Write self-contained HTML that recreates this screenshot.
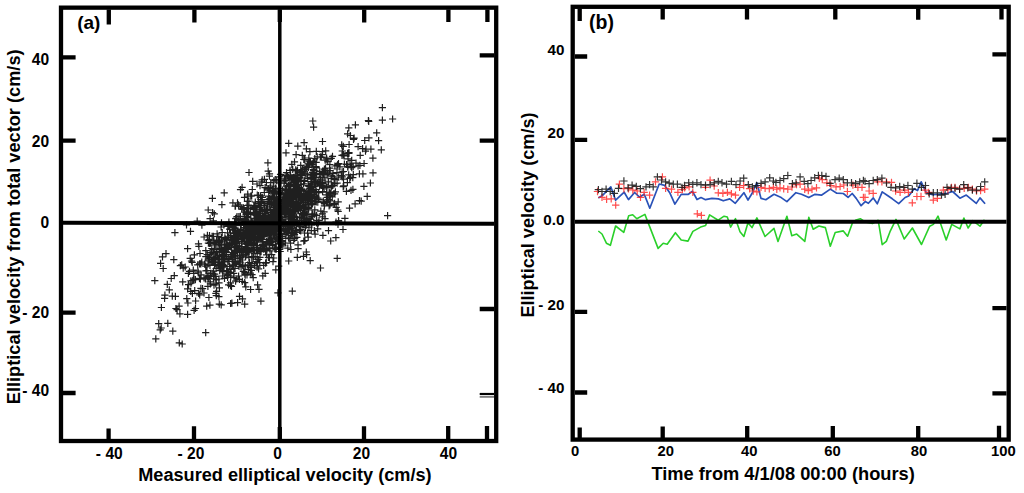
<!DOCTYPE html>
<html><head><meta charset="utf-8"><title>Elliptical velocity comparison</title>
<style>html,body{margin:0;padding:0;background:#fff;width:1024px;height:493px;overflow:hidden}svg{display:block}</style>
</head><body>
<svg width="1024" height="493" viewBox="0 0 1024 493">
<rect width="1024" height="493" fill="#fff"/>
<path d="M294.5 248.7h7.2M298.1 245.1v7.2M319.2 180.2h7.2M322.8 176.6v7.2M302.2 169.3h7.2M305.8 165.7v7.2M254.3 239.7h7.2M257.9 236.1v7.2M275.1 249.5h7.2M278.7 245.9v7.2M246.8 231.7h7.2M250.4 228.1v7.2M288.6 201.4h7.2M292.2 197.8v7.2M257.1 209.2h7.2M260.7 205.6v7.2M287.2 186.5h7.2M290.8 182.9v7.2M203.6 277h7.2M207.2 273.4v7.2M322 168.2h7.2M325.6 164.6v7.2M282 243h7.2M285.6 239.4v7.2M282.9 186.1h7.2M286.5 182.5v7.2M261.8 221.1h7.2M265.4 217.5v7.2M244.5 217.8h7.2M248.1 214.2v7.2M275.4 193.1h7.2M279 189.5v7.2M301.4 198.2h7.2M305 194.6v7.2M262.6 226.9h7.2M266.2 223.3v7.2M271.2 233.9h7.2M274.8 230.3v7.2M313.1 223h7.2M316.7 219.4v7.2M238 246.5h7.2M241.6 242.9v7.2M211.8 262.2h7.2M215.4 258.6v7.2M293.2 220.2h7.2M296.8 216.6v7.2M237.3 230.7h7.2M240.9 227.1v7.2M197.5 274.9h7.2M201.1 271.3v7.2M234.5 238h7.2M238.1 234.4v7.2M258.7 242h7.2M262.3 238.4v7.2M241.6 275.1h7.2M245.2 271.5v7.2M206.7 254.3h7.2M210.3 250.7v7.2M264.1 211h7.2M267.7 207.4v7.2M302.4 193.9h7.2M306 190.3v7.2M264 231h7.2M267.6 227.4v7.2M244 244.4h7.2M247.6 240.8v7.2M283.9 209.4h7.2M287.5 205.8v7.2M299.6 203.9h7.2M303.2 200.3v7.2M276.6 251.5h7.2M280.2 247.9v7.2M281.1 193.9h7.2M284.7 190.3v7.2M320.8 205.8h7.2M324.4 202.2v7.2M264.1 229.2h7.2M267.7 225.6v7.2M241.7 246.8h7.2M245.3 243.2v7.2M278.8 205.9h7.2M282.4 202.3v7.2M292.8 230.7h7.2M296.4 227.1v7.2M297.3 172.6h7.2M300.9 169v7.2M215.4 249.5h7.2M219 245.9v7.2M237.1 229.8h7.2M240.7 226.2v7.2M226 229.2h7.2M229.6 225.6v7.2M212.7 279.8h7.2M216.3 276.2v7.2M302.7 252h7.2M306.3 248.4v7.2M284.7 199.7h7.2M288.3 196.1v7.2M229.1 225.7h7.2M232.7 222.1v7.2M308.1 164.6h7.2M311.7 161v7.2M303.6 201h7.2M307.2 197.4v7.2M292.3 201.6h7.2M295.9 198v7.2M280.5 203.9h7.2M284.1 200.3v7.2M320.4 211.9h7.2M324 208.3v7.2M226.1 266.3h7.2M229.7 262.7v7.2M296.9 208.3h7.2M300.5 204.7v7.2M275.5 182.8h7.2M279.1 179.2v7.2M210 278.9h7.2M213.6 275.3v7.2M266.3 190.5h7.2M269.9 186.9v7.2M259.2 226.3h7.2M262.8 222.7v7.2M312.8 215.5h7.2M316.4 211.9v7.2M231.5 206.2h7.2M235.1 202.6v7.2M276.9 230.9h7.2M280.5 227.3v7.2M275.1 201.7h7.2M278.7 198.1v7.2M220.3 225h7.2M223.9 221.4v7.2M295.3 207.5h7.2M298.9 203.9v7.2M276.2 236.4h7.2M279.8 232.8v7.2M276.6 192.3h7.2M280.2 188.7v7.2M248.7 233.7h7.2M252.3 230.1v7.2M319.7 201.2h7.2M323.3 197.6v7.2M300.7 213.7h7.2M304.3 210.1v7.2M265.6 228.8h7.2M269.2 225.2v7.2M282.4 189.1h7.2M286 185.5v7.2M317.1 185.1h7.2M320.7 181.5v7.2M327.6 158.4h7.2M331.2 154.8v7.2M195.3 246.3h7.2M198.9 242.7v7.2M288.7 178.1h7.2M292.3 174.5v7.2M271.8 188.5h7.2M275.4 184.9v7.2M253.3 207.4h7.2M256.9 203.8v7.2M246.8 267.5h7.2M250.4 263.9v7.2M302.8 167.6h7.2M306.4 164v7.2M219.2 252.5h7.2M222.8 248.9v7.2M290.3 203.7h7.2M293.9 200.1v7.2M326.2 193.1h7.2M329.8 189.5v7.2M225 284.8h7.2M228.6 281.2v7.2M267.8 240.9h7.2M271.4 237.3v7.2M220.8 258h7.2M224.4 254.4v7.2M288.4 225.5h7.2M292 221.9v7.2M331.4 183.7h7.2M335 180.1v7.2M348.1 166.3h7.2M351.7 162.7v7.2M197.2 263.8h7.2M200.8 260.2v7.2M250.2 239.4h7.2M253.8 235.8v7.2M295.5 199.9h7.2M299.1 196.3v7.2M313.6 156.8h7.2M317.2 153.2v7.2M286.8 210.3h7.2M290.4 206.7v7.2M235.5 234.1h7.2M239.1 230.5v7.2M289.2 222.5h7.2M292.8 218.9v7.2M264.7 215.7h7.2M268.3 212.1v7.2M259.8 223.6h7.2M263.4 220v7.2M239.9 238.7h7.2M243.5 235.1v7.2M286.9 213h7.2M290.5 209.4v7.2M289.4 221.9h7.2M293 218.3v7.2M267.8 225.2h7.2M271.4 221.6v7.2M264.7 231h7.2M268.3 227.4v7.2M211.7 245h7.2M215.3 241.4v7.2M242.1 222.8h7.2M245.7 219.2v7.2M323.8 197.3h7.2M327.4 193.7v7.2M255.5 217.3h7.2M259.1 213.7v7.2M220.3 267.2h7.2M223.9 263.6v7.2M312.8 174.2h7.2M316.4 170.6v7.2M292.3 208.9h7.2M295.9 205.3v7.2M359.3 173.8h7.2M362.9 170.2v7.2M261.1 205.3h7.2M264.7 201.7v7.2M247.3 227.4h7.2M250.9 223.8v7.2M227.1 276.1h7.2M230.7 272.5v7.2M334.6 201.9h7.2M338.2 198.3v7.2M367.3 149.2h7.2M370.9 145.6v7.2M249.6 257.1h7.2M253.2 253.5v7.2M248.2 242.4h7.2M251.8 238.8v7.2M284.3 194.1h7.2M287.9 190.5v7.2M224.2 226.4h7.2M227.8 222.8v7.2M261.9 231.2h7.2M265.5 227.6v7.2M242.6 213.3h7.2M246.2 209.7v7.2M264.4 199.7h7.2M268 196.1v7.2M312.5 191.7h7.2M316.1 188.1v7.2M284.9 237.8h7.2M288.5 234.2v7.2M293.9 181.9h7.2M297.5 178.3v7.2M247.3 224.3h7.2M250.9 220.7v7.2M258.1 181.9h7.2M261.7 178.3v7.2M176.8 265.6h7.2M180.4 262v7.2M208 252.7h7.2M211.6 249.1v7.2M281.5 175.7h7.2M285.1 172.1v7.2M256.7 248.6h7.2M260.3 245v7.2M287.7 199.6h7.2M291.3 196v7.2M290.8 206.1h7.2M294.4 202.5v7.2M300.2 159.5h7.2M303.8 155.9v7.2M292.7 188.3h7.2M296.3 184.7v7.2M334.4 224.5h7.2M338 220.9v7.2M251.3 206.3h7.2M254.9 202.7v7.2M251.4 250.1h7.2M255 246.5v7.2M234.3 231.5h7.2M237.9 227.9v7.2M255 238.9h7.2M258.6 235.3v7.2M224.7 249.5h7.2M228.3 245.9v7.2M242.3 227.7h7.2M245.9 224.1v7.2M263.1 219.3h7.2M266.7 215.7v7.2M286.5 222.5h7.2M290.1 218.9v7.2M242.7 212.6h7.2M246.3 209v7.2M194.3 271.1h7.2M197.9 267.5v7.2M265.8 221.2h7.2M269.4 217.6v7.2M269.8 203.9h7.2M273.4 200.3v7.2M312.9 193h7.2M316.5 189.4v7.2M271.6 179.7h7.2M275.2 176.1v7.2M242.6 235.2h7.2M246.2 231.6v7.2M238.4 236h7.2M242 232.4v7.2M338.4 155.3h7.2M342 151.7v7.2M304.5 207.1h7.2M308.1 203.5v7.2M346.2 178.3h7.2M349.8 174.7v7.2M344 153.3h7.2M347.6 149.7v7.2M235 238.9h7.2M238.6 235.3v7.2M269.6 191.7h7.2M273.2 188.1v7.2M280.7 200h7.2M284.3 196.4v7.2M298.9 214.9h7.2M302.5 211.3v7.2M283 196.6h7.2M286.6 193v7.2M267.8 203.2h7.2M271.4 199.6v7.2M265.1 201.9h7.2M268.7 198.3v7.2M210.2 259.3h7.2M213.8 255.7v7.2M273.7 237.9h7.2M277.3 234.3v7.2M229.9 227.3h7.2M233.5 223.7v7.2M279.7 223.6h7.2M283.3 220v7.2M245.7 225.9h7.2M249.3 222.3v7.2M305.7 218.8h7.2M309.3 215.2v7.2M290.9 185.6h7.2M294.5 182v7.2M286.9 218.8h7.2M290.5 215.2v7.2M269.5 196.8h7.2M273.1 193.2v7.2M255 195.5h7.2M258.6 191.9v7.2M240.8 218.4h7.2M244.4 214.8v7.2M273.2 237.3h7.2M276.8 233.7v7.2M259 244.5h7.2M262.6 240.9v7.2M290.6 217.5h7.2M294.2 213.9v7.2M262.5 210.7h7.2M266.1 207.1v7.2M286.2 197.6h7.2M289.8 194v7.2M218.2 256.2h7.2M221.8 252.6v7.2M297.7 188.9h7.2M301.3 185.3v7.2M234.9 234.6h7.2M238.5 231v7.2M235.3 232.9h7.2M238.9 229.3v7.2M245.1 205h7.2M248.7 201.4v7.2M248.2 236.1h7.2M251.8 232.5v7.2M277 207.8h7.2M280.6 204.2v7.2M264.8 257.4h7.2M268.4 253.8v7.2M241.7 265.9h7.2M245.3 262.3v7.2M243.9 251.9h7.2M247.5 248.3v7.2M327.4 193.9h7.2M331 190.3v7.2M267.8 215h7.2M271.4 211.4v7.2M215.8 241.3h7.2M219.4 237.7v7.2M272.7 223.7h7.2M276.3 220.1v7.2M216.1 270.6h7.2M219.7 267v7.2M338.5 171.9h7.2M342.1 168.3v7.2M211.4 262.5h7.2M215 258.9v7.2M291 211.1h7.2M294.6 207.5v7.2M284.2 197.9h7.2M287.8 194.3v7.2M212.5 258.3h7.2M216.1 254.7v7.2M276.1 206h7.2M279.7 202.4v7.2M297.6 180.5h7.2M301.2 176.9v7.2M285.1 204.7h7.2M288.7 201.1v7.2M276.5 209.6h7.2M280.1 206v7.2M286.4 170.4h7.2M290 166.8v7.2M274.7 214.7h7.2M278.3 211.1v7.2M273.1 199.7h7.2M276.7 196.1v7.2M263.2 222.1h7.2M266.8 218.5v7.2M295.8 205.6h7.2M299.4 202v7.2M238.3 252.2h7.2M241.9 248.6v7.2M305.1 205.1h7.2M308.7 201.5v7.2M249.8 233.8h7.2M253.4 230.2v7.2M234.3 258.3h7.2M237.9 254.7v7.2M285.7 213.1h7.2M289.3 209.5v7.2M318.7 154.7h7.2M322.3 151.1v7.2M304.8 192.1h7.2M308.4 188.5v7.2M238.8 221h7.2M242.4 217.4v7.2M291.4 195.3h7.2M295 191.7v7.2M243.7 222.4h7.2M247.3 218.8v7.2M269.7 229.8h7.2M273.3 226.2v7.2M270.3 214.7h7.2M273.9 211.1v7.2M158.9 256.8h7.2M162.5 253.2v7.2M267.6 203.7h7.2M271.2 200.1v7.2M221.3 237.8h7.2M224.9 234.2v7.2M240.8 236.9h7.2M244.4 233.3v7.2M206.5 252.7h7.2M210.1 249.1v7.2M224 277.5h7.2M227.6 273.9v7.2M242 256.9h7.2M245.6 253.3v7.2M294.6 189.6h7.2M298.2 186v7.2M321.6 160.2h7.2M325.2 156.6v7.2M271.4 224.6h7.2M275 221v7.2M310.1 189h7.2M313.7 185.4v7.2M262.2 231.1h7.2M265.8 227.5v7.2M200.4 277.8h7.2M204 274.2v7.2M285.3 228.7h7.2M288.9 225.1v7.2M298.3 222.6h7.2M301.9 219v7.2M253.6 232.7h7.2M257.2 229.1v7.2M295.9 230.4h7.2M299.5 226.8v7.2M298.7 213.6h7.2M302.3 210v7.2M243.2 252.4h7.2M246.8 248.8v7.2M224.5 275.1h7.2M228.1 271.5v7.2M258.2 222.9h7.2M261.8 219.3v7.2M265 230.6h7.2M268.6 227v7.2M256.4 230.6h7.2M260 227v7.2M314.2 201.8h7.2M317.8 198.2v7.2M338.6 176.8h7.2M342.2 173.2v7.2M248.5 225.6h7.2M252.1 222v7.2M290.7 194.3h7.2M294.3 190.7v7.2M307.4 196.8h7.2M311 193.2v7.2M291.2 193.9h7.2M294.8 190.3v7.2M305.1 186.1h7.2M308.7 182.5v7.2M252.9 228.9h7.2M256.5 225.3v7.2M280.6 178.8h7.2M284.2 175.2v7.2M346.4 164.1h7.2M350 160.5v7.2M294.1 190.7h7.2M297.7 187.1v7.2M242 232.7h7.2M245.6 229.1v7.2M293.1 204.1h7.2M296.7 200.5v7.2M325.8 195.6h7.2M329.4 192v7.2M275.6 200.4h7.2M279.2 196.8v7.2M245.6 233h7.2M249.2 229.4v7.2M324.6 173.2h7.2M328.2 169.6v7.2M222.8 256.1h7.2M226.4 252.5v7.2M286.9 204.3h7.2M290.5 200.7v7.2M276.6 230.3h7.2M280.2 226.7v7.2M222.4 251.3h7.2M226 247.7v7.2M330.3 204.4h7.2M333.9 200.8v7.2M281.7 209.5h7.2M285.3 205.9v7.2M240.3 271.4h7.2M243.9 267.8v7.2M294.1 205.8h7.2M297.7 202.2v7.2M246.3 223.9h7.2M249.9 220.3v7.2M201.8 278.8h7.2M205.4 275.2v7.2M248.2 245.5h7.2M251.8 241.9v7.2M273.6 205.8h7.2M277.2 202.2v7.2M294.6 203.9h7.2M298.2 200.3v7.2M278.8 219.4h7.2M282.4 215.8v7.2M274.2 222.8h7.2M277.8 219.2v7.2M271.8 188.1h7.2M275.4 184.5v7.2M254.9 218.1h7.2M258.5 214.5v7.2M307.3 179.2h7.2M310.9 175.6v7.2M285.6 229.1h7.2M289.2 225.5v7.2M273.8 203.7h7.2M277.4 200.1v7.2M300.9 218.7h7.2M304.5 215.1v7.2M225.8 245.3h7.2M229.4 241.7v7.2M253.6 253.6h7.2M257.2 250v7.2M306.3 151.7h7.2M309.9 148.1v7.2M297.1 229.4h7.2M300.7 225.8v7.2M247.1 213.8h7.2M250.7 210.2v7.2M273.9 200.2h7.2M277.5 196.6v7.2M268.1 254.6h7.2M271.7 251v7.2M281.4 214.3h7.2M285 210.7v7.2M231 222.6h7.2M234.6 219v7.2M268.3 198.3h7.2M271.9 194.7v7.2M227 285.7h7.2M230.6 282.1v7.2M322.5 186.4h7.2M326.1 182.8v7.2M261.3 248.6h7.2M264.9 245v7.2M220.9 278.4h7.2M224.5 274.8v7.2M266.9 233.8h7.2M270.5 230.2v7.2M238.1 209.2h7.2M241.7 205.6v7.2M273.3 213.7h7.2M276.9 210.1v7.2M229.3 256.2h7.2M232.9 252.6v7.2M286.7 211.9h7.2M290.3 208.3v7.2M215.8 249.5h7.2M219.4 245.9v7.2M290 220.5h7.2M293.6 216.9v7.2M243.8 211.8h7.2M247.4 208.2v7.2M286.3 226.7h7.2M289.9 223.1v7.2M205.4 276.6h7.2M209 273v7.2M222.7 248.5h7.2M226.3 244.9v7.2M269.7 186.2h7.2M273.3 182.6v7.2M270.9 224.9h7.2M274.5 221.3v7.2M326 168.1h7.2M329.6 164.5v7.2M231 225.4h7.2M234.6 221.8v7.2M269.5 207.3h7.2M273.1 203.7v7.2M364.8 120.5h7.2M368.4 116.9v7.2M231.3 230.3h7.2M234.9 226.7v7.2M233.5 243.5h7.2M237.1 239.9v7.2M261.8 213.4h7.2M265.4 209.8v7.2M258.7 210.4h7.2M262.3 206.8v7.2M300.1 195.1h7.2M303.7 191.5v7.2M258.7 197.3h7.2M262.3 193.7v7.2M260.1 265.3h7.2M263.7 261.7v7.2M285.4 224.2h7.2M289 220.6v7.2M351.8 124.9h7.2M355.4 121.3v7.2M311.4 177.2h7.2M315 173.6v7.2M173.5 309.6h7.2M177.1 306v7.2M260.3 219.5h7.2M263.9 215.9v7.2M226.8 233h7.2M230.4 229.4v7.2M297 207.9h7.2M300.6 204.3v7.2M255.4 215.9h7.2M259 212.3v7.2M340.8 164h7.2M344.4 160.4v7.2M304.1 193.5h7.2M307.7 189.9v7.2M302.2 194.2h7.2M305.8 190.6v7.2M265.3 201.3h7.2M268.9 197.7v7.2M278.1 234h7.2M281.7 230.4v7.2M284.9 214h7.2M288.5 210.4v7.2M310.1 173.7h7.2M313.7 170.1v7.2M300 218.1h7.2M303.6 214.5v7.2M271.1 248.6h7.2M274.7 245v7.2M310.2 175.4h7.2M313.8 171.8v7.2M276 214h7.2M279.6 210.4v7.2M267.6 223.8h7.2M271.2 220.2v7.2M238.7 241.5h7.2M242.3 237.9v7.2M257.5 247.8h7.2M261.1 244.2v7.2M218.3 204.6h7.2M221.9 201v7.2M176.3 313.8h7.2M179.9 310.2v7.2M310.2 194.7h7.2M313.8 191.1v7.2M303.1 219.6h7.2M306.7 216v7.2M265.1 230.9h7.2M268.7 227.3v7.2M292.8 171h7.2M296.4 167.4v7.2M284.8 206.6h7.2M288.4 203v7.2M277 201.8h7.2M280.6 198.2v7.2M183.2 298.6h7.2M186.8 295v7.2M243.4 205.5h7.2M247 201.9v7.2M286.9 202.1h7.2M290.5 198.5v7.2M339.6 186.7h7.2M343.2 183.1v7.2M328.9 156.3h7.2M332.5 152.7v7.2M324.6 181.9h7.2M328.2 178.3v7.2M220.8 247h7.2M224.4 243.4v7.2M187.4 283.1h7.2M191 279.5v7.2M287.3 199.8h7.2M290.9 196.2v7.2M268.7 217.3h7.2M272.3 213.7v7.2M312.7 201.8h7.2M316.3 198.2v7.2M278.6 241h7.2M282.2 237.4v7.2M267.8 201.9h7.2M271.4 198.3v7.2M215.5 265.7h7.2M219.1 262.1v7.2M282.7 203.2h7.2M286.3 199.6v7.2M257.1 238.3h7.2M260.7 234.7v7.2M300.9 233h7.2M304.5 229.4v7.2M297.8 221h7.2M301.4 217.4v7.2M251.6 206.9h7.2M255.2 203.3v7.2M288 219.5h7.2M291.6 215.9v7.2M272.1 224.6h7.2M275.7 221v7.2M310.6 214.4h7.2M314.2 210.8v7.2M292.3 211.1h7.2M295.9 207.5v7.2M252.5 240.3h7.2M256.1 236.7v7.2M249.6 239.7h7.2M253.2 236.1v7.2M333.4 169h7.2M337 165.4v7.2M271.3 230.1h7.2M274.9 226.5v7.2M310.7 197.1h7.2M314.3 193.5v7.2M283.5 208.3h7.2M287.1 204.7v7.2M245.4 232.7h7.2M249 229.1v7.2M243 243.6h7.2M246.6 240v7.2M257 195.9h7.2M260.6 192.3v7.2M276.5 209.8h7.2M280.1 206.2v7.2M290 199.7h7.2M293.6 196.1v7.2M229 264.9h7.2M232.6 261.3v7.2M237.6 225.4h7.2M241.2 221.8v7.2M275.2 234.5h7.2M278.8 230.9v7.2M342.8 191.3h7.2M346.4 187.7v7.2M192 301h7.2M195.6 297.4v7.2M279.2 199.6h7.2M282.8 196v7.2M260.1 249.1h7.2M263.7 245.5v7.2M272.6 192h7.2M276.2 188.4v7.2M251.3 234.6h7.2M254.9 231v7.2M296.7 226.7h7.2M300.3 223.1v7.2M328.4 176.2h7.2M332 172.6v7.2M265.2 188.6h7.2M268.8 185v7.2M293 217h7.2M296.6 213.4v7.2M295.1 224.1h7.2M298.7 220.5v7.2M236.8 236h7.2M240.4 232.4v7.2M276.6 188.5h7.2M280.2 184.9v7.2M251.9 214.1h7.2M255.5 210.5v7.2M242.5 247.7h7.2M246.1 244.1v7.2M265.9 218.8h7.2M269.5 215.2v7.2M257.7 222.8h7.2M261.3 219.2v7.2M285.5 183.9h7.2M289.1 180.3v7.2M247.2 196.1h7.2M250.8 192.5v7.2M250.8 236.8h7.2M254.4 233.2v7.2M310 161.6h7.2M313.6 158v7.2M308.4 194.6h7.2M312 191v7.2M309.9 175.4h7.2M313.5 171.8v7.2M300.1 212.7h7.2M303.7 209.1v7.2M272.3 232h7.2M275.9 228.4v7.2M249.8 227.4h7.2M253.4 223.8v7.2M267.3 238.6h7.2M270.9 235v7.2M295.3 181.5h7.2M298.9 177.9v7.2M278.4 222.9h7.2M282 219.3v7.2M214.2 262.8h7.2M217.8 259.2v7.2M268.4 222h7.2M272 218.4v7.2M220.5 265.6h7.2M224.1 262v7.2M273.9 213.4h7.2M277.5 209.8v7.2M214.9 242.9h7.2M218.5 239.3v7.2M193.6 221h7.2M197.2 217.4v7.2M284.6 230.2h7.2M288.2 226.6v7.2M263.4 218.6h7.2M267 215v7.2M210 271h7.2M213.6 267.4v7.2M305 208.3h7.2M308.6 204.7v7.2M345.4 152.5h7.2M349 148.9v7.2M223.3 273.9h7.2M226.9 270.3v7.2M336.3 166.9h7.2M339.9 163.3v7.2M232.3 225.7h7.2M235.9 222.1v7.2M270.1 258h7.2M273.7 254.4v7.2M260.2 222.2h7.2M263.8 218.6v7.2M212.1 257.4h7.2M215.7 253.8v7.2M325.6 192.6h7.2M329.2 189v7.2M282.1 199.2h7.2M285.7 195.6v7.2M238.3 238h7.2M241.9 234.4v7.2M262.2 232.1h7.2M265.8 228.5v7.2M202.2 250.6h7.2M205.8 247v7.2M268.7 245.4h7.2M272.3 241.8v7.2M297.2 184.6h7.2M300.8 181v7.2M208.6 273.3h7.2M212.2 269.7v7.2M263.1 245.1h7.2M266.7 241.5v7.2M276.1 217.6h7.2M279.7 214v7.2M310.7 192.9h7.2M314.3 189.3v7.2M310.6 170.4h7.2M314.2 166.8v7.2M266.5 250.8h7.2M270.1 247.2v7.2M243.9 244h7.2M247.5 240.4v7.2M289.8 211.8h7.2M293.4 208.2v7.2M241 212.2h7.2M244.6 208.6v7.2M268.3 242h7.2M271.9 238.4v7.2M298.5 175.6h7.2M302.1 172v7.2M347.4 190.3h7.2M351 186.7v7.2M275.6 208h7.2M279.2 204.4v7.2M263.4 227.1h7.2M267 223.5v7.2M286.4 198.6h7.2M290 195v7.2M206.8 283.9h7.2M210.4 280.3v7.2M286.9 243.2h7.2M290.5 239.6v7.2M245 269.3h7.2M248.6 265.7v7.2M344 133.9h7.2M347.6 130.3v7.2M293.4 196.1h7.2M297 192.5v7.2M282.5 225.8h7.2M286.1 222.2v7.2M253.6 215.2h7.2M257.2 211.6v7.2M184.3 303h7.2M187.9 299.4v7.2M302.2 207.5h7.2M305.8 203.9v7.2M340.1 185.9h7.2M343.7 182.3v7.2M231.5 227.8h7.2M235.1 224.2v7.2M275.6 176.9h7.2M279.2 173.3v7.2M304.7 209.9h7.2M308.3 206.3v7.2M209.9 262.4h7.2M213.5 258.8v7.2M294.2 180.9h7.2M297.8 177.3v7.2M298.7 155.3h7.2M302.3 151.7v7.2M300.2 241.2h7.2M303.8 237.6v7.2M265.6 220.3h7.2M269.2 216.7v7.2M291.9 189.2h7.2M295.5 185.6v7.2M226.9 282.9h7.2M230.5 279.3v7.2M268.8 212.5h7.2M272.4 208.9v7.2M305.9 186.6h7.2M309.5 183v7.2M217.1 248.4h7.2M220.7 244.8v7.2M311 197.5h7.2M314.6 193.9v7.2M250.1 227.6h7.2M253.7 224v7.2M199 288.7h7.2M202.6 285.1v7.2M259.7 216.2h7.2M263.3 212.6v7.2M232.3 247h7.2M235.9 243.4v7.2M284.5 215.1h7.2M288.1 211.5v7.2M239.8 271.3h7.2M243.4 267.7v7.2M292.1 169.8h7.2M295.7 166.2v7.2M231.8 229h7.2M235.4 225.4v7.2M274 199.3h7.2M277.6 195.7v7.2M253.9 245.4h7.2M257.5 241.8v7.2M260.8 233.7h7.2M264.4 230.1v7.2M297.1 165.4h7.2M300.7 161.8v7.2M270.1 205.1h7.2M273.7 201.5v7.2M262.9 241.7h7.2M266.5 238.1v7.2M223.1 256.6h7.2M226.7 253v7.2M310.3 184.1h7.2M313.9 180.5v7.2M297.9 200.7h7.2M301.5 197.1v7.2M266.3 240.7h7.2M269.9 237.1v7.2M266.3 198.3h7.2M269.9 194.7v7.2M226.1 243.7h7.2M229.7 240.1v7.2M234.1 252.4h7.2M237.7 248.8v7.2M253.9 262.8h7.2M257.5 259.2v7.2M287.7 216.4h7.2M291.3 212.8v7.2M280.1 211.3h7.2M283.7 207.7v7.2M233.8 232h7.2M237.4 228.4v7.2M299.7 202.5h7.2M303.3 198.9v7.2M287.4 183.9h7.2M291 180.3v7.2M274.2 213.3h7.2M277.8 209.7v7.2M314.2 198h7.2M317.8 194.4v7.2M285.1 261h7.2M288.7 257.4v7.2M276.1 237h7.2M279.7 233.4v7.2M300.5 223.4h7.2M304.1 219.8v7.2M269.4 222.7h7.2M273 219.1v7.2M295 192.6h7.2M298.6 189v7.2M210.3 240.8h7.2M213.9 237.2v7.2M321.3 177.9h7.2M324.9 174.3v7.2M251.5 256.5h7.2M255.1 252.9v7.2M240.9 197.4h7.2M244.5 193.8v7.2M215.9 257h7.2M219.5 253.4v7.2M293.5 205.2h7.2M297.1 201.6v7.2M318.1 185.3h7.2M321.7 181.7v7.2M321 204h7.2M324.6 200.4v7.2M293.5 187.8h7.2M297.1 184.2v7.2M208.7 261.6h7.2M212.3 258v7.2M225.5 224.5h7.2M229.1 220.9v7.2M241.8 220.7h7.2M245.4 217.1v7.2M226.7 237.4h7.2M230.3 233.8v7.2M298.2 171.9h7.2M301.8 168.3v7.2M278.5 217.7h7.2M282.1 214.1v7.2M272.3 225.7h7.2M275.9 222.1v7.2M287.3 205.9h7.2M290.9 202.3v7.2M246 262.5h7.2M249.6 258.9v7.2M237.2 248.3h7.2M240.8 244.7v7.2M239.9 249.7h7.2M243.5 246.1v7.2M280.9 197.2h7.2M284.5 193.6v7.2M281.6 209.8h7.2M285.2 206.2v7.2M308.1 224.9h7.2M311.7 221.3v7.2M308.1 187.5h7.2M311.7 183.9v7.2M206 243.3h7.2M209.6 239.7v7.2M265.8 257.7h7.2M269.4 254.1v7.2M281.5 224.2h7.2M285.1 220.6v7.2M219.5 259.4h7.2M223.1 255.8v7.2M262 250.9h7.2M265.6 247.3v7.2M311.2 196.1h7.2M314.8 192.5v7.2M308.7 186.4h7.2M312.3 182.8v7.2M320.7 203.2h7.2M324.3 199.6v7.2M267.7 214.9h7.2M271.3 211.3v7.2M257.3 221.1h7.2M260.9 217.5v7.2M320.3 202.5h7.2M323.9 198.9v7.2M255 230.3h7.2M258.6 226.7v7.2M271 197h7.2M274.6 193.4v7.2M318.9 182.4h7.2M322.5 178.8v7.2M251.3 225.4h7.2M254.9 221.8v7.2M240.5 230.1h7.2M244.1 226.5v7.2M270.7 222.6h7.2M274.3 219v7.2M281.4 190.4h7.2M285 186.8v7.2M282.8 200.8h7.2M286.4 197.2v7.2M283.9 226.4h7.2M287.5 222.8v7.2M284.2 196.9h7.2M287.8 193.3v7.2M202.2 256.7h7.2M205.8 253.1v7.2M229.8 235.5h7.2M233.4 231.9v7.2M280.8 222.1h7.2M284.4 218.5v7.2M230.5 241.6h7.2M234.1 238v7.2M206.8 243.1h7.2M210.4 239.5v7.2M222.4 252.5h7.2M226 248.9v7.2M224 232.8h7.2M227.6 229.2v7.2M249.9 209.5h7.2M253.5 205.9v7.2M231.7 250.1h7.2M235.3 246.5v7.2M271 204.7h7.2M274.6 201.1v7.2M333.4 172.6h7.2M337 169v7.2M253.2 211.3h7.2M256.8 207.7v7.2M316.1 182.7h7.2M319.7 179.1v7.2M284.4 217.2h7.2M288 213.6v7.2M228 252.7h7.2M231.6 249.1v7.2M260 227.7h7.2M263.6 224.1v7.2M229.2 243.9h7.2M232.8 240.3v7.2M292.3 191.2h7.2M295.9 187.6v7.2M237.5 267h7.2M241.1 263.4v7.2M323.1 187.8h7.2M326.7 184.2v7.2M286.3 198h7.2M289.9 194.4v7.2M190.2 273.5h7.2M193.8 269.9v7.2M296.4 195.1h7.2M300 191.5v7.2M300.5 142.6h7.2M304.1 139v7.2M229.1 229.6h7.2M232.7 226v7.2M305.3 191h7.2M308.9 187.4v7.2M196 263.9h7.2M199.6 260.3v7.2M265.1 196.1h7.2M268.7 192.5v7.2M204.4 264h7.2M208 260.4v7.2M302.6 225.2h7.2M306.2 221.6v7.2M202.3 270.9h7.2M205.9 267.3v7.2M171.8 296.4h7.2M175.4 292.8v7.2M262.8 182.5h7.2M266.4 178.9v7.2M369.4 172.8h7.2M373 169.2v7.2M232.1 218.7h7.2M235.7 215.1v7.2M300.2 196.3h7.2M303.8 192.7v7.2M263.7 204.9h7.2M267.3 201.3v7.2M259.4 232h7.2M263 228.4v7.2M289.2 198.8h7.2M292.8 195.2v7.2M317.7 157.2h7.2M321.3 153.6v7.2M222.5 254.5h7.2M226.1 250.9v7.2M279 190h7.2M282.6 186.4v7.2M281.7 209.7h7.2M285.3 206.1v7.2M220.2 265.8h7.2M223.8 262.2v7.2M329.4 173.7h7.2M333 170.1v7.2M344.3 167.1h7.2M347.9 163.5v7.2M234.7 248.5h7.2M238.3 244.9v7.2M318.9 151.6h7.2M322.5 148v7.2M281.4 230.9h7.2M285 227.3v7.2M278 243.1h7.2M281.6 239.5v7.2M323.4 174.6h7.2M327 171v7.2M260.7 192.5h7.2M264.3 188.9v7.2M270.2 197.1h7.2M273.8 193.5v7.2M311.2 158.5h7.2M314.8 154.9v7.2M303.5 166.1h7.2M307.1 162.5v7.2M307.8 200.9h7.2M311.4 197.3v7.2M216 258.9h7.2M219.6 255.3v7.2M235.9 296.3h7.2M239.5 292.7v7.2M315.1 192.6h7.2M318.7 189v7.2M228.6 239.1h7.2M232.2 235.5v7.2M288.3 232.5h7.2M291.9 228.9v7.2M248.4 274.6h7.2M252 271v7.2M273.8 239.3h7.2M277.4 235.7v7.2M219.4 254h7.2M223 250.4v7.2M316.7 156.9h7.2M320.3 153.3v7.2M206.5 218.7h7.2M210.1 215.1v7.2M250.2 205.6h7.2M253.8 202v7.2M275.6 241.9h7.2M279.2 238.3v7.2M334.1 210h7.2M337.7 206.4v7.2M214.8 258.9h7.2M218.4 255.3v7.2M256.9 207.2h7.2M260.5 203.6v7.2M275.7 243.6h7.2M279.3 240v7.2M292.3 209h7.2M295.9 205.4v7.2M289.5 209.8h7.2M293.1 206.2v7.2M250.7 231.8h7.2M254.3 228.2v7.2M278.4 213.5h7.2M282 209.9v7.2M249.4 223.5h7.2M253 219.9v7.2M275 192.3h7.2M278.6 188.7v7.2M263.5 220.6h7.2M267.1 217v7.2M236.9 229h7.2M240.5 225.4v7.2M248.1 195.9h7.2M251.7 192.3v7.2M290.8 219.5h7.2M294.4 215.9v7.2M360.5 163.5h7.2M364.1 159.9v7.2M245.1 226.9h7.2M248.7 223.3v7.2M261.5 187.6h7.2M265.1 184v7.2M319.7 173h7.2M323.3 169.4v7.2M181.6 267h7.2M185.2 263.4v7.2M207 273.4h7.2M210.6 269.8v7.2M215.7 242.7h7.2M219.3 239.1v7.2M269.5 228.9h7.2M273.1 225.3v7.2M350.5 138.1h7.2M354.1 134.5v7.2M278.3 202h7.2M281.9 198.4v7.2M308.1 177.8h7.2M311.7 174.2v7.2M246.6 208.6h7.2M250.2 205v7.2M167.6 278.5h7.2M171.2 274.9v7.2M188.8 293.5h7.2M192.4 289.9v7.2M296.4 177.6h7.2M300 174v7.2M290.4 232.3h7.2M294 228.7v7.2M210.8 244.8h7.2M214.4 241.2v7.2M282.4 152.8h7.2M286 149.2v7.2M206.3 257.2h7.2M209.9 253.6v7.2M304.1 178.4h7.2M307.7 174.8v7.2M319.9 174.2h7.2M323.5 170.6v7.2M231.6 230.7h7.2M235.2 227.1v7.2M231.2 255.8h7.2M234.8 252.2v7.2M291.9 184.9h7.2M295.5 181.3v7.2M229.9 253.3h7.2M233.5 249.7v7.2M302.8 197.1h7.2M306.4 193.5v7.2M222.5 251.6h7.2M226.1 248v7.2M297.4 194.4h7.2M301 190.8v7.2M287.1 235.1h7.2M290.7 231.5v7.2M231.9 206.2h7.2M235.5 202.6v7.2M233.2 242.4h7.2M236.8 238.8v7.2M291.9 230.3h7.2M295.5 226.7v7.2M187.9 261h7.2M191.5 257.4v7.2M257.4 226.1h7.2M261 222.5v7.2M250.8 226.9h7.2M254.4 223.3v7.2M285.3 189.2h7.2M288.9 185.6v7.2M229.9 265.1h7.2M233.5 261.5v7.2M357.6 201.2h7.2M361.2 197.6v7.2M256.8 227.9h7.2M260.4 224.3v7.2M223.4 248.4h7.2M227 244.8v7.2M308.4 164.9h7.2M312 161.3v7.2M335.1 177.2h7.2M338.7 173.6v7.2M262.9 226.2h7.2M266.5 222.6v7.2M230.9 239.2h7.2M234.5 235.6v7.2M270.8 220.8h7.2M274.4 217.2v7.2M244.4 240.9h7.2M248 237.3v7.2M253.4 223.8h7.2M257 220.2v7.2M333.5 183.1h7.2M337.1 179.5v7.2M266.6 187.5h7.2M270.2 183.9v7.2M281.2 224h7.2M284.8 220.4v7.2M279.5 206.9h7.2M283.1 203.3v7.2M268.2 223.1h7.2M271.8 219.5v7.2M304.6 200.9h7.2M308.2 197.3v7.2M294.3 185.3h7.2M297.9 181.7v7.2M244.2 216.7h7.2M247.8 213.1v7.2M257.3 197.5h7.2M260.9 193.9v7.2M349.9 139.4h7.2M353.5 135.8v7.2M286.9 210.3h7.2M290.5 206.7v7.2M252.3 213h7.2M255.9 209.4v7.2M355.8 173.8h7.2M359.4 170.2v7.2M267.1 216.7h7.2M270.7 213.1v7.2M222.2 244h7.2M225.8 240.4v7.2M286.6 191.1h7.2M290.2 187.5v7.2M245.3 257.7h7.2M248.9 254.1v7.2M263.3 249.8h7.2M266.9 246.2v7.2M263.5 188.6h7.2M267.1 185v7.2M267.5 227.4h7.2M271.1 223.8v7.2M255 259.5h7.2M258.6 255.9v7.2M258.9 248.5h7.2M262.5 244.9v7.2M245.6 235.1h7.2M249.2 231.5v7.2M298.8 169.5h7.2M302.4 165.9v7.2M241.1 239.1h7.2M244.7 235.5v7.2M235.2 220.7h7.2M238.8 217.1v7.2M339.8 154.9h7.2M343.4 151.3v7.2M242.8 228.7h7.2M246.4 225.1v7.2M312.6 162.3h7.2M316.2 158.7v7.2M319.1 183.3h7.2M322.7 179.7v7.2M259.1 219h7.2M262.7 215.4v7.2M219.3 264.4h7.2M222.9 260.8v7.2M290.1 211.9h7.2M293.7 208.3v7.2M285.9 190.4h7.2M289.5 186.8v7.2M310.7 198.9h7.2M314.3 195.3v7.2M269.4 214.9h7.2M273 211.3v7.2M319 191.6h7.2M322.6 188v7.2M319.2 177.9h7.2M322.8 174.3v7.2M234.1 255.4h7.2M237.7 251.8v7.2M309.5 163h7.2M313.1 159.4v7.2M273.3 212h7.2M276.9 208.4v7.2M246.3 233.9h7.2M249.9 230.3v7.2M240.5 208.3h7.2M244.1 204.7v7.2M363.6 196.4h7.2M367.2 192.8v7.2M314.2 202.1h7.2M317.8 198.5v7.2M228.3 303.1h7.2M231.9 299.5v7.2M270.9 215.9h7.2M274.5 212.3v7.2M258.6 217.3h7.2M262.2 213.7v7.2M255.4 216h7.2M259 212.4v7.2M246.6 230.4h7.2M250.2 226.8v7.2M222.9 271.6h7.2M226.5 268v7.2M282.9 172.5h7.2M286.5 168.9v7.2M230.7 242.7h7.2M234.3 239.1v7.2M256.9 232.4h7.2M260.5 228.8v7.2M256.6 249.4h7.2M260.2 245.8v7.2M237.4 235.1h7.2M241 231.5v7.2M299.8 202.3h7.2M303.4 198.7v7.2M286.3 212.4h7.2M289.9 208.8v7.2M241.5 236.1h7.2M245.1 232.5v7.2M231.5 244h7.2M235.1 240.4v7.2M258.7 242.1h7.2M262.3 238.5v7.2M291.6 175.4h7.2M295.2 171.8v7.2M282.2 226.6h7.2M285.8 223v7.2M287.2 224.8h7.2M290.8 221.2v7.2M253.2 224.8h7.2M256.8 221.2v7.2M257.5 224.8h7.2M261.1 221.2v7.2M275.4 211.5h7.2M279 207.9v7.2M204.7 278h7.2M208.3 274.4v7.2M326.6 170.5h7.2M330.2 166.9v7.2M244.7 248.6h7.2M248.3 245v7.2M263 254.8h7.2M266.6 251.2v7.2M310.1 170.6h7.2M313.7 167v7.2M285.9 224h7.2M289.5 220.4v7.2M271.9 220.2h7.2M275.5 216.6v7.2M240 227.5h7.2M243.6 223.9v7.2M211 264.7h7.2M214.6 261.1v7.2M249.1 181.3h7.2M252.7 177.7v7.2M325.1 199.7h7.2M328.7 196.1v7.2M242.4 254.1h7.2M246 250.5v7.2M317.2 177.4h7.2M320.8 173.8v7.2M214.3 236.3h7.2M217.9 232.7v7.2M243.8 243.4h7.2M247.4 239.8v7.2M300.2 220.5h7.2M303.8 216.9v7.2M257.5 205.5h7.2M261.1 201.9v7.2M302.2 209.1h7.2M305.8 205.5v7.2M243 243.1h7.2M246.6 239.5v7.2M222.3 239.1h7.2M225.9 235.5v7.2M206.4 281.9h7.2M210 278.3v7.2M228.6 259.7h7.2M232.2 256.1v7.2M224.4 245h7.2M228 241.4v7.2M218.1 263.4h7.2M221.7 259.8v7.2M276.9 206.4h7.2M280.5 202.8v7.2M253 249.5h7.2M256.6 245.9v7.2M196.8 279.1h7.2M200.4 275.5v7.2M369.3 158.2h7.2M372.9 154.6v7.2M252.5 261.7h7.2M256.1 258.1v7.2M205.9 235.6h7.2M209.5 232v7.2M309.3 176.9h7.2M312.9 173.3v7.2M302.3 173.8h7.2M305.9 170.2v7.2M235.4 264.3h7.2M239 260.7v7.2M214.8 262.9h7.2M218.4 259.3v7.2M233.8 250.9h7.2M237.4 247.3v7.2M323 202.1h7.2M326.6 198.5v7.2M251.8 221.8h7.2M255.4 218.2v7.2M245.6 251.3h7.2M249.2 247.7v7.2M269.2 222.1h7.2M272.8 218.5v7.2M326.7 201h7.2M330.3 197.4v7.2M208.2 248.5h7.2M211.8 244.9v7.2M247.2 221.5h7.2M250.8 217.9v7.2M214.1 255.3h7.2M217.7 251.7v7.2M356.3 165.3h7.2M359.9 161.7v7.2M339.9 171.5h7.2M343.5 167.9v7.2M291.6 176.6h7.2M295.2 173v7.2M266.1 226.1h7.2M269.7 222.5v7.2M289.9 196.3h7.2M293.5 192.7v7.2M190.3 279.5h7.2M193.9 275.9v7.2M289 223.8h7.2M292.6 220.2v7.2M205.2 240.7h7.2M208.8 237.1v7.2M238.7 281.3h7.2M242.3 277.7v7.2M240.5 237.2h7.2M244.1 233.6v7.2M256.4 230.3h7.2M260 226.7v7.2M304.6 220.8h7.2M308.2 217.2v7.2M290.8 194.4h7.2M294.4 190.8v7.2M273 205.1h7.2M276.6 201.5v7.2M233.4 246.3h7.2M237 242.7v7.2M300.9 208.6h7.2M304.5 205v7.2M259.7 217.3h7.2M263.3 213.7v7.2M300.9 171h7.2M304.5 167.4v7.2M232.8 243.5h7.2M236.4 239.9v7.2M151.2 280.6h7.2M154.8 277v7.2M242.8 223h7.2M246.4 219.4v7.2M339.7 146.3h7.2M343.3 142.7v7.2M272.4 188.9h7.2M276 185.3v7.2M267.5 232.4h7.2M271.1 228.8v7.2M305.6 198.9h7.2M309.2 195.3v7.2M281.9 198.1h7.2M285.5 194.5v7.2M280.3 199.2h7.2M283.9 195.6v7.2M235.3 216.5h7.2M238.9 212.9v7.2M260.3 203.3h7.2M263.9 199.7v7.2M274 210.9h7.2M277.6 207.3v7.2M242.8 235.4h7.2M246.4 231.8v7.2M230.1 255.2h7.2M233.7 251.6v7.2M276.8 219h7.2M280.4 215.4v7.2M307.9 195.5h7.2M311.5 191.9v7.2M283.4 189.2h7.2M287 185.6v7.2M290.8 209.7h7.2M294.4 206.1v7.2M290 208.1h7.2M293.6 204.5v7.2M361.1 140.5h7.2M364.7 136.9v7.2M282.6 217.1h7.2M286.2 213.5v7.2M308.5 190.6h7.2M312.1 187v7.2M360.3 186.3h7.2M363.9 182.7v7.2M266.6 212.8h7.2M270.2 209.2v7.2M280.7 214.5h7.2M284.3 210.9v7.2M304.5 185.6h7.2M308.1 182v7.2M326.3 164.5h7.2M329.9 160.9v7.2M297.1 231h7.2M300.7 227.4v7.2M258.6 179.8h7.2M262.2 176.2v7.2M269.8 214h7.2M273.4 210.4v7.2M222.2 252h7.2M225.8 248.4v7.2M325.5 206h7.2M329.1 202.4v7.2M252.6 218.4h7.2M256.2 214.8v7.2M201 264.1h7.2M204.6 260.5v7.2M265.7 226.4h7.2M269.3 222.8v7.2M202.1 266.1h7.2M205.7 262.5v7.2M218.6 232.5h7.2M222.2 228.9v7.2M271.2 220.9h7.2M274.8 217.3v7.2M242.3 255.2h7.2M245.9 251.6v7.2M293.9 170.2h7.2M297.5 166.6v7.2M211.1 257.6h7.2M214.7 254v7.2M278.6 211.5h7.2M282.2 207.9v7.2M265.9 173.8h7.2M269.5 170.2v7.2M319.1 172h7.2M322.7 168.4v7.2M302.6 191.8h7.2M306.2 188.2v7.2M273.3 207h7.2M276.9 203.4v7.2M274 219.3h7.2M277.6 215.7v7.2M263.2 216.3h7.2M266.8 212.7v7.2M307.5 181.6h7.2M311.1 178v7.2M249.6 244.1h7.2M253.2 240.5v7.2M288.9 204.7h7.2M292.5 201.1v7.2M261.1 216.2h7.2M264.7 212.6v7.2M272.6 205.5h7.2M276.2 201.9v7.2M252.4 218.1h7.2M256 214.5v7.2M338.1 144.8h7.2M341.7 141.2v7.2M241.1 233.6h7.2M244.7 230v7.2M271.9 203.6h7.2M275.5 200v7.2M281.2 213.4h7.2M284.8 209.8v7.2M292.2 202.2h7.2M295.8 198.6v7.2M274.3 191.7h7.2M277.9 188.1v7.2M301.8 227.7h7.2M305.4 224.1v7.2M300 183.9h7.2M303.6 180.3v7.2M182.9 224.9h7.2M186.5 221.3v7.2M285.6 238.6h7.2M289.2 235v7.2M208.5 236.3h7.2M212.1 232.7v7.2M292.9 231h7.2M296.5 227.4v7.2M221.3 248.2h7.2M224.9 244.6v7.2M217.5 227h7.2M221.1 223.4v7.2M251.7 202h7.2M255.3 198.4v7.2M327.6 186.9h7.2M331.2 183.3v7.2M301.5 215.8h7.2M305.1 212.2v7.2M292.6 225.7h7.2M296.2 222.1v7.2M312.7 167.9h7.2M316.3 164.3v7.2M237.4 250.3h7.2M241 246.7v7.2M191.8 279.7h7.2M195.4 276.1v7.2M250.4 227.4h7.2M254 223.8v7.2M254.3 221.4h7.2M257.9 217.8v7.2M308.4 175.2h7.2M312 171.6v7.2M345.3 153.3h7.2M348.9 149.7v7.2M235 276h7.2M238.6 272.4v7.2M345.2 127.8h7.2M348.8 124.2v7.2M351.5 203.8h7.2M355.1 200.2v7.2M287.4 178.8h7.2M291 175.2v7.2M287.6 214.2h7.2M291.2 210.6v7.2M359 148.6h7.2M362.6 145v7.2M276.4 221.8h7.2M280 218.2v7.2M254.7 236.4h7.2M258.3 232.8v7.2M273.8 214.2h7.2M277.4 210.6v7.2M221.1 261.9h7.2M224.7 258.3v7.2M296.1 217h7.2M299.7 213.4v7.2M256.5 211.5h7.2M260.1 207.9v7.2M286.1 215.1h7.2M289.7 211.5v7.2M269 191.8h7.2M272.6 188.2v7.2M231.3 251.2h7.2M234.9 247.6v7.2M323.3 187.4h7.2M326.9 183.8v7.2M227.4 243.1h7.2M231 239.5v7.2M292.6 181.5h7.2M296.2 177.9v7.2M219.1 276h7.2M222.7 272.4v7.2M284.8 210.5h7.2M288.4 206.9v7.2M225.2 225.8h7.2M228.8 222.2v7.2M279.6 228.5h7.2M283.2 224.9v7.2M252.8 247.3h7.2M256.4 243.7v7.2M187.3 280.8h7.2M190.9 277.2v7.2M239.3 265.3h7.2M242.9 261.7v7.2M294.4 244.8h7.2M298 241.2v7.2M307.1 219.1h7.2M310.7 215.5v7.2M211.4 257.2h7.2M215 253.6v7.2M184.8 273.3h7.2M188.4 269.7v7.2M231.2 237h7.2M234.8 233.4v7.2M257.2 219.8h7.2M260.8 216.2v7.2M257.1 251.2h7.2M260.7 247.6v7.2M232.6 234.2h7.2M236.2 230.6v7.2M288.8 179.5h7.2M292.4 175.9v7.2M310.5 197.7h7.2M314.1 194.1v7.2M286.8 185.2h7.2M290.4 181.6v7.2M237.8 250.1h7.2M241.4 246.5v7.2M269.6 213.6h7.2M273.2 210v7.2M258.1 219.5h7.2M261.7 215.9v7.2M230.5 277.6h7.2M234.1 274v7.2M287 174.9h7.2M290.6 171.3v7.2M279.9 225.5h7.2M283.5 221.9v7.2M251.8 233.6h7.2M255.4 230v7.2M325 181.9h7.2M328.6 178.3v7.2M292.2 190.2h7.2M295.8 186.6v7.2M295.8 187.7h7.2M299.4 184.1v7.2M312.2 182.3h7.2M315.8 178.7v7.2M281.5 180.4h7.2M285.1 176.8v7.2M219.7 252.2h7.2M223.3 248.6v7.2M258.1 234.2h7.2M261.7 230.6v7.2M332.4 222h7.2M336 218.4v7.2M243.1 244.1h7.2M246.7 240.5v7.2M272.6 220.4h7.2M276.2 216.8v7.2M291.3 216.5h7.2M294.9 212.9v7.2M329.3 185.5h7.2M332.9 181.9v7.2M310.4 172.8h7.2M314 169.2v7.2M291.5 179.3h7.2M295.1 175.7v7.2M243.8 201.5h7.2M247.4 197.9v7.2M291.2 177.7h7.2M294.8 174.1v7.2M294.5 210.7h7.2M298.1 207.1v7.2M260.2 219.9h7.2M263.8 216.3v7.2M331 193.9h7.2M334.6 190.3v7.2M279.7 195h7.2M283.3 191.4v7.2M237.5 236.3h7.2M241.1 232.7v7.2M320.5 187.8h7.2M324.1 184.2v7.2M260.2 226.9h7.2M263.8 223.3v7.2M292.5 203.5h7.2M296.1 199.9v7.2M218.8 270.7h7.2M222.4 267.1v7.2M255.3 203.3h7.2M258.9 199.7v7.2M204.6 210h7.2M208.2 206.4v7.2M225.1 237.3h7.2M228.7 233.7v7.2M188.6 262.4h7.2M192.2 258.8v7.2M345.2 152.9h7.2M348.8 149.3v7.2M266.2 226.7h7.2M269.8 223.1v7.2M256.4 185.6h7.2M260 182v7.2M312.3 189.7h7.2M315.9 186.1v7.2M260.2 217.2h7.2M263.8 213.6v7.2M288.2 204.4h7.2M291.8 200.8v7.2M213.1 251.5h7.2M216.7 247.9v7.2M276 213h7.2M279.6 209.4v7.2M247.6 223.5h7.2M251.2 219.9v7.2M298.6 218.2h7.2M302.2 214.6v7.2M275.9 214h7.2M279.5 210.4v7.2M204.8 243.2h7.2M208.4 239.6v7.2M210.4 285.1h7.2M214 281.5v7.2M237.5 256h7.2M241.1 252.4v7.2M282.3 180.5h7.2M285.9 176.9v7.2M280 201h7.2M283.6 197.4v7.2M272.9 193.9h7.2M276.5 190.3v7.2M215.7 304.1h7.2M219.3 300.5v7.2M168.7 296.1h7.2M172.3 292.5v7.2M257.5 251.6h7.2M261.1 248v7.2M269.3 244.4h7.2M272.9 240.8v7.2M242.3 231.4h7.2M245.9 227.8v7.2M270 194h7.2M273.6 190.4v7.2M276.1 240.9h7.2M279.7 237.3v7.2M235.4 266.4h7.2M239 262.8v7.2M241.6 251.2h7.2M245.2 247.6v7.2M274.6 215.6h7.2M278.2 212v7.2M283.4 231.8h7.2M287 228.2v7.2M244.1 194.2h7.2M247.7 190.6v7.2M345.5 144.5h7.2M349.1 140.9v7.2M262 230.4h7.2M265.6 226.8v7.2M277.5 221h7.2M281.1 217.4v7.2M209.8 220.8h7.2M213.4 217.2v7.2M233.9 202.9h7.2M237.5 199.3v7.2M291.9 208.7h7.2M295.5 205.1v7.2M285.6 197.7h7.2M289.2 194.1v7.2M250.5 208.5h7.2M254.1 204.9v7.2M293.8 220.7h7.2M297.4 217.1v7.2M275.7 223.8h7.2M279.3 220.2v7.2M186.6 258.4h7.2M190.2 254.8v7.2M155.1 323.6h7.2M158.7 320v7.2M356.6 155.3h7.2M360.2 151.7v7.2M311.2 209.8h7.2M314.8 206.2v7.2M273.3 229.2h7.2M276.9 225.6v7.2M198.2 262.1h7.2M201.8 258.5v7.2M229.4 266h7.2M233 262.4v7.2M330.1 193.9h7.2M333.7 190.3v7.2M172.3 308.5h7.2M175.9 304.9v7.2M239.5 207.6h7.2M243.1 204v7.2M298.2 191h7.2M301.8 187.4v7.2M278.8 221.1h7.2M282.4 217.5v7.2M294.3 194.6h7.2M297.9 191v7.2M259.2 217.5h7.2M262.8 213.9v7.2M354.5 146.6h7.2M358.1 143v7.2M247.8 270.4h7.2M251.4 266.8v7.2M215.7 255.6h7.2M219.3 252v7.2M280.3 213.2h7.2M283.9 209.6v7.2M312.5 166.7h7.2M316.1 163.1v7.2M279.1 236.4h7.2M282.7 232.8v7.2M296.6 175.5h7.2M300.2 171.9v7.2M253.6 240.4h7.2M257.2 236.8v7.2M241.2 274h7.2M244.8 270.4v7.2M306.8 161.9h7.2M310.4 158.3v7.2M330.5 178.5h7.2M334.1 174.9v7.2M320.8 169.2h7.2M324.4 165.6v7.2M253.9 233.8h7.2M257.5 230.2v7.2M215.8 240.3h7.2M219.4 236.7v7.2M215.1 240.6h7.2M218.7 237v7.2M249.6 212.5h7.2M253.2 208.9v7.2M282.8 193.3h7.2M286.4 189.7v7.2M302.3 222.9h7.2M305.9 219.3v7.2M232 281.1h7.2M235.6 277.5v7.2M273.6 210.9h7.2M277.2 207.3v7.2M278.1 229.7h7.2M281.7 226.1v7.2M267.3 210.9h7.2M270.9 207.3v7.2M266 217.7h7.2M269.6 214.1v7.2M274.5 241.6h7.2M278.1 238v7.2M299.9 213.6h7.2M303.5 210v7.2M283.8 228.6h7.2M287.4 225v7.2M285.1 222.8h7.2M288.7 219.2v7.2M245.2 241.9h7.2M248.8 238.3v7.2M276.4 199.3h7.2M280 195.7v7.2M251.2 206.9h7.2M254.8 203.3v7.2M200.4 293h7.2M204 289.4v7.2M291.4 211.3h7.2M295 207.7v7.2M244 208.6h7.2M247.6 205v7.2M293.7 181.1h7.2M297.3 177.5v7.2M260.3 221.1h7.2M263.9 217.5v7.2M287.3 249.5h7.2M290.9 245.9v7.2M285.7 224.6h7.2M289.3 221v7.2M266.5 217.5h7.2M270.1 213.9v7.2M257.7 239.2h7.2M261.3 235.6v7.2M184 248.7h7.2M187.6 245.1v7.2M334.9 163.5h7.2M338.5 159.9v7.2M208.1 262.4h7.2M211.7 258.8v7.2M266.4 242.1h7.2M270 238.5v7.2M302.2 212h7.2M305.8 208.4v7.2M288.7 215.6h7.2M292.3 212v7.2M295.1 209.6h7.2M298.7 206v7.2M298.8 199h7.2M302.4 195.4v7.2M311 177.3h7.2M314.6 173.7v7.2M277 207.5h7.2M280.6 203.9v7.2M365.1 121.3h7.2M368.7 117.7v7.2M244.3 264.9h7.2M247.9 261.3v7.2M274.7 209.8h7.2M278.3 206.2v7.2M253 226.9h7.2M256.6 223.3v7.2M233.4 216.5h7.2M237 212.9v7.2M281 213.1h7.2M284.6 209.5v7.2M318.6 172.1h7.2M322.2 168.5v7.2M250.3 249.7h7.2M253.9 246.1v7.2M238.4 235.1h7.2M242 231.5v7.2M291.1 192.9h7.2M294.7 189.3v7.2M294.3 210.4h7.2M297.9 206.8v7.2M344.1 166.3h7.2M347.7 162.7v7.2M306.3 189h7.2M309.9 185.4v7.2M271.3 205.4h7.2M274.9 201.8v7.2M267.4 242.3h7.2M271 238.7v7.2M267.9 202.3h7.2M271.5 198.7v7.2M265.2 228.1h7.2M268.8 224.5v7.2M200.5 237h7.2M204.1 233.4v7.2M254.8 201.6h7.2M258.4 198v7.2M265.9 229h7.2M269.5 225.4v7.2M265.9 233.3h7.2M269.5 229.7v7.2M229.3 202.8h7.2M232.9 199.2v7.2M324.2 161.6h7.2M327.8 158v7.2M288.4 191.8h7.2M292 188.2v7.2M306.7 196.3h7.2M310.3 192.7v7.2M247.5 238.5h7.2M251.1 234.9v7.2M223.4 239.8h7.2M227 236.2v7.2M252.2 220.1h7.2M255.8 216.5v7.2M285.2 221.6h7.2M288.8 218v7.2M243.9 214.6h7.2M247.5 211v7.2M258.6 221h7.2M262.2 217.4v7.2M312.6 201.8h7.2M316.2 198.2v7.2M269.9 198.5h7.2M273.5 194.9v7.2M234.2 250.2h7.2M237.8 246.6v7.2M245.3 222.5h7.2M248.9 218.9v7.2M249.7 245h7.2M253.3 241.4v7.2M271.6 209.4h7.2M275.2 205.8v7.2M241.3 272.7h7.2M244.9 269.1v7.2M258.3 219.9h7.2M261.9 216.3v7.2M308.2 216.4h7.2M311.8 212.8v7.2M267.9 216.2h7.2M271.5 212.6v7.2M259.2 275.9h7.2M262.8 272.3v7.2M246.5 238h7.2M250.1 234.4v7.2M266.1 206.8h7.2M269.7 203.2v7.2M281.4 199h7.2M285 195.4v7.2M287.6 180.2h7.2M291.2 176.6v7.2M273.3 236h7.2M276.9 232.4v7.2M205.4 239.5h7.2M209 235.9v7.2M305.2 158h7.2M308.8 154.4v7.2M290.7 224.3h7.2M294.3 220.7v7.2M290.8 216.4h7.2M294.4 212.8v7.2M285 216.7h7.2M288.6 213.1v7.2M230.7 250h7.2M234.3 246.4v7.2M255 226.3h7.2M258.6 222.7v7.2M301.3 240.5h7.2M304.9 236.9v7.2M300.5 181.5h7.2M304.1 177.9v7.2M273.1 220.3h7.2M276.7 216.7v7.2M164.2 323.3h7.2M167.8 319.7v7.2M250.6 215h7.2M254.2 211.4v7.2M284.6 212.7h7.2M288.2 209.1v7.2M304.9 167.4h7.2M308.5 163.8v7.2M289.3 191.7h7.2M292.9 188.1v7.2M362.4 149.2h7.2M366 145.6v7.2M309.3 163.1h7.2M312.9 159.5v7.2M310 169.7h7.2M313.6 166.1v7.2M307.7 197.1h7.2M311.3 193.5v7.2M233.3 278.9h7.2M236.9 275.3v7.2M304.6 200.4h7.2M308.2 196.8v7.2M284.5 194.1h7.2M288.1 190.5v7.2M251.5 237.4h7.2M255.1 233.8v7.2M273.1 181h7.2M276.7 177.4v7.2M281.2 203.6h7.2M284.8 200v7.2M249.6 230.5h7.2M253.2 226.9v7.2M260.1 218h7.2M263.7 214.4v7.2M267.2 237.2h7.2M270.8 233.6v7.2M278 213.7h7.2M281.6 210.1v7.2M259.2 239.4h7.2M262.8 235.8v7.2M310.7 230.5h7.2M314.3 226.9v7.2M215.3 296.7h7.2M218.9 293.1v7.2M251.1 218.7h7.2M254.7 215.1v7.2M211.1 274.1h7.2M214.7 270.5v7.2M252 234.8h7.2M255.6 231.2v7.2M301.4 221.1h7.2M305 217.5v7.2M274.8 225.3h7.2M278.4 221.7v7.2M257 213.1h7.2M260.6 209.5v7.2M270 215.9h7.2M273.6 212.3v7.2M330.7 178.7h7.2M334.3 175.1v7.2M213.5 233.8h7.2M217.1 230.2v7.2M301.5 193.5h7.2M305.1 189.9v7.2M216.5 267.9h7.2M220.1 264.3v7.2M240.5 219.4h7.2M244.1 215.8v7.2M290.9 234.6h7.2M294.5 231v7.2M232.1 237.8h7.2M235.7 234.2v7.2M286.6 226.1h7.2M290.2 222.5v7.2M302.6 206.8h7.2M306.2 203.2v7.2M231.4 262.4h7.2M235 258.8v7.2M264.4 219.8h7.2M268 216.2v7.2M253.7 228.9h7.2M257.3 225.3v7.2M194.7 272.9h7.2M198.3 269.3v7.2M259.6 222.1h7.2M263.2 218.5v7.2M226 226.2h7.2M229.6 222.6v7.2M301.3 159.6h7.2M304.9 156v7.2M229.7 236.6h7.2M233.3 233v7.2M323.3 159.9h7.2M326.9 156.3v7.2M252.5 239.3h7.2M256.1 235.7v7.2M349.7 174.7h7.2M353.3 171.1v7.2M282.5 196.2h7.2M286.1 192.6v7.2M284.7 205.2h7.2M288.3 201.6v7.2M289.7 185.2h7.2M293.3 181.6v7.2M318.8 213.8h7.2M322.4 210.2v7.2M294.2 146.1h7.2M297.8 142.5v7.2M343.8 182.7h7.2M347.4 179.1v7.2M255.4 228.9h7.2M259 225.3v7.2M213.3 244.4h7.2M216.9 240.8v7.2M184 314.3h7.2M187.6 310.7v7.2M259.6 237h7.2M263.2 233.4v7.2M315.4 220.3h7.2M319 216.7v7.2M295.9 224.7h7.2M299.5 221.1v7.2M291.1 238.4h7.2M294.7 234.8v7.2M254.6 228.2h7.2M258.2 224.6v7.2M242.3 234.5h7.2M245.9 230.9v7.2M261.1 231.2h7.2M264.7 227.6v7.2M270.6 192.7h7.2M274.2 189.1v7.2M190.8 254.9h7.2M194.4 251.3v7.2M295.1 197.5h7.2M298.7 193.9v7.2M217.2 264.8h7.2M220.8 261.2v7.2M265.2 226.9h7.2M268.8 223.3v7.2M249.5 243.1h7.2M253.1 239.5v7.2M242.5 214.6h7.2M246.1 211v7.2M227.9 247.2h7.2M231.5 243.6v7.2M229.4 257.1h7.2M233 253.5v7.2M262 228.6h7.2M265.6 225v7.2M223.5 244.8h7.2M227.1 241.2v7.2M361.9 151.1h7.2M365.5 147.5v7.2M250 227.8h7.2M253.6 224.2v7.2M244.6 239h7.2M248.2 235.4v7.2M235.2 219.5h7.2M238.8 215.9v7.2M218 237.3h7.2M221.6 233.7v7.2M191.9 308.5h7.2M195.5 304.9v7.2M260.3 228.6h7.2M263.9 225v7.2M272.7 201.7h7.2M276.3 198.1v7.2M217.5 268.9h7.2M221.1 265.3v7.2M260.6 209.5h7.2M264.2 205.9v7.2M220.8 251h7.2M224.4 247.4v7.2M261.2 213.3h7.2M264.8 209.7v7.2M281.8 209.3h7.2M285.4 205.7v7.2M283 201.3h7.2M286.6 197.7v7.2M279 200.2h7.2M282.6 196.6v7.2M256.4 257.3h7.2M260 253.7v7.2M308.9 203.9h7.2M312.5 200.3v7.2M261.4 244.4h7.2M265 240.8v7.2M264.9 189.1h7.2M268.5 185.5v7.2M290.9 194.8h7.2M294.5 191.2v7.2M253.4 223.8h7.2M257 220.2v7.2M219.5 255.2h7.2M223.1 251.6v7.2M295.4 207.2h7.2M299 203.6v7.2M234.3 261h7.2M237.9 257.4v7.2M227.4 235.6h7.2M231 232v7.2M231.3 256.2h7.2M234.9 252.6v7.2M283.8 175.8h7.2M287.4 172.2v7.2M260.2 221.7h7.2M263.8 218.1v7.2M185 284.7h7.2M188.6 281.1v7.2M297 200.1h7.2M300.6 196.5v7.2M344.4 158.8h7.2M348 155.2v7.2M333.5 165.6h7.2M337.1 162v7.2M232.8 218.2h7.2M236.4 214.6v7.2M248.7 189.5h7.2M252.3 185.9v7.2M297.5 217.7h7.2M301.1 214.1v7.2M298.2 189.8h7.2M301.8 186.2v7.2M262.5 209.9h7.2M266.1 206.3v7.2M236.6 262.2h7.2M240.2 258.6v7.2M301.6 204.3h7.2M305.2 200.7v7.2M294.8 206.4h7.2M298.4 202.8v7.2M242.2 286.8h7.2M245.8 283.2v7.2M248.4 222.5h7.2M252 218.9v7.2M278.2 211.8h7.2M281.8 208.2v7.2M268.7 220.4h7.2M272.3 216.8v7.2M286.3 202.8h7.2M289.9 199.2v7.2M294.6 192.8h7.2M298.2 189.2v7.2M265.8 176.1h7.2M269.4 172.5v7.2M262 220.5h7.2M265.6 216.9v7.2M210.7 249.4h7.2M214.3 245.8v7.2M295.3 207.1h7.2M298.9 203.5v7.2M315.7 173.7h7.2M319.3 170.1v7.2M343 164.5h7.2M346.6 160.9v7.2M268.1 222h7.2M271.7 218.4v7.2M275.1 230.9h7.2M278.7 227.3v7.2M328.4 186h7.2M332 182.4v7.2M316.1 171.3h7.2M319.7 167.7v7.2M273.2 200.4h7.2M276.8 196.8v7.2M289.5 192.8h7.2M293.1 189.2v7.2M246.4 249.6h7.2M250 246v7.2M286.1 198.3h7.2M289.7 194.7v7.2M261.6 273.4h7.2M265.2 269.8v7.2M253.6 212.5h7.2M257.2 208.9v7.2M263.6 223.3h7.2M267.2 219.7v7.2M248.1 229.9h7.2M251.7 226.3v7.2M179.6 268.1h7.2M183.2 264.5v7.2M241.6 248.6h7.2M245.2 245v7.2M270.8 198.2h7.2M274.4 194.6v7.2M269.7 226.2h7.2M273.3 222.6v7.2M248.2 224.5h7.2M251.8 220.9v7.2M287.2 211.3h7.2M290.8 207.7v7.2M290 195.3h7.2M293.6 191.7v7.2M284.9 177.2h7.2M288.5 173.6v7.2M244.4 250.7h7.2M248 247.1v7.2M274.2 225.7h7.2M277.8 222.1v7.2M258.5 232.9h7.2M262.1 229.3v7.2M232.7 241.7h7.2M236.3 238.1v7.2M186.9 231.3h7.2M190.5 227.7v7.2M269.5 228.9h7.2M273.1 225.3v7.2M255 268.9h7.2M258.6 265.3v7.2M352.4 163.1h7.2M356 159.5v7.2M278.9 240.6h7.2M282.5 237v7.2M264.6 232.4h7.2M268.2 228.8v7.2M252.9 230.7h7.2M256.5 227.1v7.2M345.1 174.9h7.2M348.7 171.3v7.2M239.6 255h7.2M243.2 251.4v7.2M279.3 245.8h7.2M282.9 242.2v7.2M237.7 239.8h7.2M241.3 236.2v7.2M270 231.6h7.2M273.6 228v7.2M255.9 207.5h7.2M259.5 203.9v7.2M297.7 174.4h7.2M301.3 170.8v7.2M224 271.2h7.2M227.6 267.6v7.2M270.2 224.1h7.2M273.8 220.5v7.2M326 170.7h7.2M329.6 167.1v7.2M241.7 225.3h7.2M245.3 221.7v7.2M276.8 243.9h7.2M280.4 240.3v7.2M235.8 246.2h7.2M239.4 242.6v7.2M347.4 166.4h7.2M351 162.8v7.2M255.3 233.2h7.2M258.9 229.6v7.2M275.4 229h7.2M279 225.4v7.2M258.5 228.8h7.2M262.1 225.2v7.2M171.3 232.7h7.2M174.9 229.1v7.2M307.1 200.6h7.2M310.7 197v7.2M276.2 225.5h7.2M279.8 221.9v7.2M264.4 220.8h7.2M268 217.2v7.2M288.3 198.3h7.2M291.9 194.7v7.2M313 222.3h7.2M316.6 218.7v7.2M202.1 332.6h7.2M205.7 329v7.2M290.4 222.7h7.2M294 219.1v7.2M237.5 256h7.2M241.1 252.4v7.2M279.1 238.4h7.2M282.7 234.8v7.2M243.4 274.9h7.2M247 271.3v7.2M235.8 279.5h7.2M239.4 275.9v7.2M308.8 201.9h7.2M312.4 198.3v7.2M262 233h7.2M265.6 229.4v7.2M272.2 269.9h7.2M275.8 266.3v7.2M256.1 251h7.2M259.7 247.4v7.2M259.2 221.2h7.2M262.8 217.6v7.2M262 233.3h7.2M265.6 229.7v7.2M175.7 342.9h7.2M179.3 339.3v7.2M227.5 269.3h7.2M231.1 265.7v7.2M250.9 239.6h7.2M254.5 236v7.2M283 189h7.2M286.6 185.4v7.2M345.9 208.1h7.2M349.5 204.5v7.2M209.6 253.2h7.2M213.2 249.6v7.2M354.5 166h7.2M358.1 162.4v7.2M262.7 223.1h7.2M266.3 219.5v7.2M273.3 199.8h7.2M276.9 196.2v7.2M250.8 265.4h7.2M254.4 261.8v7.2M246.7 266.9h7.2M250.3 263.3v7.2M327.5 178.3h7.2M331.1 174.7v7.2M241.5 225.3h7.2M245.1 221.7v7.2M265.5 243.3h7.2M269.1 239.7v7.2M334.6 211.5h7.2M338.2 207.9v7.2M349.2 177.7h7.2M352.8 174.1v7.2M189.8 279h7.2M193.4 275.4v7.2M236.8 216.4h7.2M240.4 212.8v7.2M269.4 239h7.2M273 235.4v7.2M348.1 167.6h7.2M351.7 164v7.2M375 140.7h7.2M378.6 137.1v7.2M262.4 233.9h7.2M266 230.3v7.2M293.3 232.3h7.2M296.9 228.7v7.2M307.9 204.9h7.2M311.5 201.3v7.2M311 182.7h7.2M314.6 179.1v7.2M247.3 239.5h7.2M250.9 235.9v7.2M300.9 197h7.2M304.5 193.4v7.2M246.8 273.1h7.2M250.4 269.5v7.2M152.2 338.9h7.2M155.8 335.3v7.2M212.3 293.3h7.2M215.9 289.7v7.2M257.4 202.7h7.2M261 199.1v7.2M276.9 174.3h7.2M280.5 170.7v7.2M157.8 307.5h7.2M161.4 303.9v7.2M159.6 268.5h7.2M163.2 264.9v7.2M266.5 235.2h7.2M270.1 231.6v7.2M307.7 230.6h7.2M311.3 227v7.2M306.5 186h7.2M310.1 182.4v7.2M296.8 198.2h7.2M300.4 194.6v7.2M248.4 227.1h7.2M252 223.5v7.2M330.9 179.6h7.2M334.5 176v7.2M293.3 237.4h7.2M296.9 233.8v7.2M254.4 237.9h7.2M258 234.3v7.2M270.8 224.9h7.2M274.4 221.3v7.2M305.9 192.4h7.2M309.5 188.8v7.2M263.1 209h7.2M266.7 205.4v7.2M269.6 230.1h7.2M273.2 226.5v7.2M204.3 286.4h7.2M207.9 282.8v7.2M260.8 179.3h7.2M264.4 175.7v7.2M250.4 207.7h7.2M254 204.1v7.2M348.1 160.4h7.2M351.7 156.8v7.2M278 244.3h7.2M281.6 240.7v7.2M267.6 238.5h7.2M271.2 234.9v7.2M231.5 244.1h7.2M235.1 240.5v7.2M284.9 185.5h7.2M288.5 181.9v7.2M220.6 192.8h7.2M224.2 189.2v7.2M237.2 257.8h7.2M240.8 254.2v7.2M334.1 164.5h7.2M337.7 160.9v7.2M349.6 166.7h7.2M353.2 163.1v7.2M243.7 242.5h7.2M247.3 238.9v7.2M225 271.9h7.2M228.6 268.3v7.2M331 203.4h7.2M334.6 199.8v7.2M212.9 240.2h7.2M216.5 236.6v7.2M389 119h7.2M392.6 115.4v7.2M240.2 209.4h7.2M243.8 205.8v7.2M315.4 199.4h7.2M319 195.8v7.2M203.4 270.6h7.2M207 267v7.2M253.9 216.4h7.2M257.5 212.8v7.2M341.3 218.4h7.2M344.9 214.8v7.2M304 233.1h7.2M307.6 229.5v7.2M230.2 233.5h7.2M233.8 229.9v7.2M373.1 132.9h7.2M376.7 129.3v7.2M324.9 230.7h7.2M328.5 227.1v7.2M265.7 247.8h7.2M269.3 244.2v7.2M253.5 267.2h7.2M257.1 263.6v7.2M260.1 244.8h7.2M263.7 241.2v7.2M302.8 148.8h7.2M306.4 145.2v7.2M239.1 265.1h7.2M242.7 261.5v7.2M236.9 189.7h7.2M240.5 186.1v7.2M232.2 261.2h7.2M235.8 257.6v7.2M331.8 191.9h7.2M335.4 188.3v7.2M234.9 204.9h7.2M238.5 201.3v7.2M289.7 177.3h7.2M293.3 173.7v7.2M270.2 180.8h7.2M273.8 177.2v7.2M210.7 213.9h7.2M214.3 210.3v7.2M280.7 181.2h7.2M284.3 177.6v7.2M289.1 169.4h7.2M292.7 165.8v7.2M238.9 298.8h7.2M242.5 295.2v7.2M308.4 213.9h7.2M312 210.3v7.2M248.6 233.3h7.2M252.2 229.7v7.2M282.9 189.2h7.2M286.5 185.6v7.2M212.2 284h7.2M215.8 280.4v7.2M269.1 189h7.2M272.7 185.4v7.2M209 212.5h7.2M212.6 208.9v7.2M290.5 186.6h7.2M294.1 183v7.2M250.2 212.9h7.2M253.8 209.3v7.2M204.7 260.8h7.2M208.3 257.2v7.2M300.3 168h7.2M303.9 164.4v7.2M251.9 229.8h7.2M255.5 226.2v7.2M226.6 272.3h7.2M230.2 268.7v7.2M264.7 219.5h7.2M268.3 215.9v7.2M219.8 259.8h7.2M223.4 256.2v7.2M304.6 237.1h7.2M308.2 233.5v7.2M258.4 223.7h7.2M262 220.1v7.2M247.6 238.8h7.2M251.2 235.2v7.2M291.4 196.7h7.2M295 193.1v7.2M215.4 282.9h7.2M219 279.3v7.2M301.1 180.4h7.2M304.7 176.8v7.2M165.7 289.8h7.2M169.3 286.2v7.2M347 177.2h7.2M350.6 173.6v7.2M268.1 212.9h7.2M271.7 209.3v7.2M241.4 221.7h7.2M245 218.1v7.2M220.8 240.1h7.2M224.4 236.5v7.2M302.7 220.9h7.2M306.3 217.3v7.2M272.5 249.3h7.2M276.1 245.7v7.2M256.4 231.7h7.2M260 228.1v7.2M326.4 204.9h7.2M330 201.3v7.2M208.8 198.4h7.2M212.4 194.8v7.2M266.2 248.7h7.2M269.8 245.1v7.2M295.9 223.4h7.2M299.5 219.8v7.2M303.7 174.1h7.2M307.3 170.5v7.2M265.2 239.7h7.2M268.8 236.1v7.2M306.6 260.7h7.2M310.2 257.1v7.2M269.4 226.8h7.2M273 223.2v7.2M313 215.3h7.2M316.6 211.7v7.2M339.9 179.1h7.2M343.5 175.5v7.2M247 289.5h7.2M250.6 285.9v7.2M272.7 247.1h7.2M276.3 243.5v7.2M265.8 231h7.2M269.4 227.4v7.2M293.2 205.6h7.2M296.8 202v7.2M349.3 189.4h7.2M352.9 185.8v7.2M275.4 239.8h7.2M279 236.2v7.2M287.8 233.5h7.2M291.4 229.9v7.2M314.6 181.7h7.2M318.2 178.1v7.2M212.2 276.3h7.2M215.8 272.7v7.2M249.6 277.7h7.2M253.2 274.1v7.2M236.3 232.8h7.2M239.9 229.2v7.2M275.8 239.4h7.2M279.4 235.8v7.2M270.6 211.6h7.2M274.2 208v7.2M256.1 262.6h7.2M259.7 259v7.2M340.5 155.9h7.2M344.1 152.3v7.2M236 255.9h7.2M239.6 252.3v7.2M256.1 233.9h7.2M259.7 230.3v7.2M307.5 177.5h7.2M311.1 173.9v7.2M294.4 190.5h7.2M298 186.9v7.2M263 225h7.2M266.6 221.4v7.2M280.5 210.3h7.2M284.1 206.7v7.2M321.4 218.6h7.2M325 215v7.2M266.4 229.1h7.2M270 225.5v7.2M327.1 241h7.2M330.7 237.4v7.2M257.3 301.1h7.2M260.9 297.5v7.2M273.6 230.2h7.2M277.2 226.6v7.2M195.1 293.4h7.2M198.7 289.8v7.2M203.8 235.3h7.2M207.4 231.7v7.2M204.6 259.2h7.2M208.2 255.6v7.2M305.8 161.1h7.2M309.4 157.5v7.2M249.2 250.5h7.2M252.8 246.9v7.2M272.5 208.7h7.2M276.1 205.1v7.2M206.8 242.4h7.2M210.4 238.8v7.2M248.5 226.2h7.2M252.1 222.6v7.2M247.5 232.1h7.2M251.1 228.5v7.2M225.1 258.3h7.2M228.7 254.7v7.2M317.2 211.2h7.2M320.8 207.6v7.2M203.1 306.1h7.2M206.7 302.5v7.2M314.1 228.9h7.2M317.7 225.3v7.2M378.8 120.1h7.2M382.4 116.5v7.2M231.7 263.6h7.2M235.3 260v7.2M275.9 238.4h7.2M279.5 234.8v7.2M189.1 280.7h7.2M192.7 277.1v7.2M271.6 238.9h7.2M275.2 235.3v7.2M170.7 275.6h7.2M174.3 272v7.2M264.6 171.2h7.2M268.2 167.6v7.2M235.1 239h7.2M238.7 235.4v7.2M190.5 310.3h7.2M194.1 306.7v7.2M227 303.5h7.2M230.6 299.9v7.2M162.4 253.7h7.2M166 250.1v7.2M243.9 231.6h7.2M247.5 228v7.2M318.9 216.8h7.2M322.5 213.2v7.2M229.4 225.2h7.2M233 221.6v7.2M234 302.6h7.2M237.6 299v7.2M231.4 268.4h7.2M235 264.8v7.2M271.3 228.9h7.2M274.9 225.3v7.2M157.6 328h7.2M161.2 324.4v7.2M305.4 227.1h7.2M309 223.5v7.2M245.4 172.5h7.2M249 168.9v7.2M156.6 329.9h7.2M160.2 326.3v7.2M309.7 178.2h7.2M313.3 174.6v7.2M187.1 291.4h7.2M190.7 287.8v7.2M275.1 266.1h7.2M278.7 262.5v7.2M322.7 194.9h7.2M326.3 191.3v7.2M184 288.8h7.2M187.6 285.2v7.2M163.7 284.3h7.2M167.3 280.7v7.2M215.3 279h7.2M218.9 275.4v7.2M206.4 265.3h7.2M210 261.7v7.2M259.4 241.7h7.2M263 238.1v7.2M228.2 240.3h7.2M231.8 236.7v7.2M274.3 292.8h7.2M277.9 289.2v7.2M229.9 238.6h7.2M233.5 235v7.2M261.3 248.5h7.2M264.9 244.9v7.2M230.1 273.4h7.2M233.7 269.8v7.2M316.9 268h7.2M320.5 264.4v7.2M275.8 249.5h7.2M279.4 245.9v7.2M205.2 258.8h7.2M208.8 255.2v7.2M309.2 121h7.2M312.8 117.4v7.2M213 291.4h7.2M216.6 287.8v7.2M303.4 214.3h7.2M307 210.7v7.2M219.4 250.5h7.2M223 246.9v7.2M272.6 211.9h7.2M276.2 208.3v7.2M292.8 221h7.2M296.4 217.4v7.2M302.1 200.7h7.2M305.7 197.1v7.2M330.7 183.1h7.2M334.3 179.5v7.2M213.4 251.6h7.2M217 248v7.2M378.8 107.6h7.2M382.4 104v7.2M253.4 184h7.2M257 180.4v7.2M210.6 245h7.2M214.2 241.4v7.2M189.7 270h7.2M193.3 266.4v7.2M365.3 137.9h7.2M368.9 134.3v7.2M322.1 150.8h7.2M325.7 147.2v7.2M275 247.6h7.2M278.6 244v7.2M264.3 162.9h7.2M267.9 159.3v7.2M317.1 174.5h7.2M320.7 170.9v7.2M245.3 201h7.2M248.9 197.4v7.2M254.1 259.5h7.2M257.7 255.9v7.2M244.9 212.6h7.2M248.5 209v7.2M293.9 190.3h7.2M297.5 186.7v7.2M265.5 231.7h7.2M269.1 228.1v7.2M215.8 287.8h7.2M219.4 284.2v7.2M309 215.9h7.2M312.6 212.3v7.2M157 263.4h7.2M160.6 259.8v7.2M209.8 236.4h7.2M213.4 232.8v7.2M316.4 179.9h7.2M320 176.3v7.2M269.8 216.7h7.2M273.4 213.1v7.2M283.1 233h7.2M286.7 229.4v7.2M293.7 257.3h7.2M297.3 253.7v7.2M335.1 221.2h7.2M338.7 217.6v7.2M268.5 241.7h7.2M272.1 238.1v7.2M175.5 306.2h7.2M179.1 302.6v7.2M290.2 240.4h7.2M293.8 236.8v7.2M161 298.3h7.2M164.6 294.7v7.2M331.3 166h7.2M334.9 162.4v7.2M334.9 220.5h7.2M338.5 216.9v7.2M243.8 250.7h7.2M247.4 247.1v7.2M258.7 232.6h7.2M262.3 229v7.2M284.2 248.2h7.2M287.8 244.6v7.2M339.4 229.5h7.2M343 225.9v7.2M198.3 225.1h7.2M201.9 221.5v7.2M212.5 252h7.2M216.1 248.4v7.2M238.8 260h7.2M242.4 256.4v7.2M244.3 196h7.2M247.9 192.4v7.2M257.2 199.7h7.2M260.8 196.1v7.2M237.1 236.5h7.2M240.7 232.9v7.2M292.8 196.4h7.2M296.4 192.8v7.2M203.6 254.6h7.2M207.2 251v7.2M236.5 206.5h7.2M240.1 202.9v7.2M229.1 254.5h7.2M232.7 250.9v7.2M219.3 271.8h7.2M222.9 268.2v7.2M308.7 172.3h7.2M312.3 168.7v7.2M288.7 291.1h7.2M292.3 287.5v7.2M214.5 266.2h7.2M218.1 262.6v7.2M269.4 235h7.2M273 231.4v7.2M216.3 267.9h7.2M219.9 264.3v7.2M291.4 209.9h7.2M295 206.3v7.2M295.2 191h7.2M298.8 187.4v7.2M306.7 188.4h7.2M310.3 184.8v7.2M212.5 268.5h7.2M216.1 264.9v7.2M256.9 237.2h7.2M260.5 233.6v7.2M338.7 151h7.2M342.3 147.4v7.2M259.4 246.4h7.2M263 242.8v7.2M304.6 163.8h7.2M308.2 160.2v7.2M355.9 200.7h7.2M359.5 197.1v7.2M195.9 278.3h7.2M199.5 274.7v7.2M310 175.1h7.2M313.6 171.5v7.2M314.7 222.9h7.2M318.3 219.3v7.2M307.9 203.4h7.2M311.5 199.8v7.2M318.9 141.5h7.2M322.5 137.9v7.2M284.6 214h7.2M288.2 210.4v7.2M278.4 241.7h7.2M282 238.1v7.2M333.6 258.4h7.2M337.2 254.8v7.2M241.1 236.3h7.2M244.7 232.7v7.2M282.8 208.5h7.2M286.4 204.9v7.2M161.3 295.1h7.2M164.9 291.5v7.2M310 127.2h7.2M313.6 123.6v7.2M237.7 249.5h7.2M241.3 245.9v7.2M284.3 206.2h7.2M287.9 202.6v7.2M286.1 229.4h7.2M289.7 225.8v7.2M267.4 226.3h7.2M271 222.7v7.2M267.2 225.5h7.2M270.8 221.9v7.2M253.5 213.4h7.2M257.1 209.8v7.2M179.1 281.9h7.2M182.7 278.3v7.2M248.2 263.5h7.2M251.8 259.9v7.2M323 192.1h7.2M326.6 188.5v7.2M194.9 243.9h7.2M198.5 240.3v7.2M227.9 286.4h7.2M231.5 282.8v7.2M346.7 135.5h7.2M350.3 131.9v7.2M292.5 154.6h7.2M296.1 151v7.2M323 158.2h7.2M326.6 154.6v7.2M257.3 225.3h7.2M260.9 221.7v7.2M253.7 195h7.2M257.3 191.4v7.2M291 194.1h7.2M294.6 190.5v7.2M287.2 208.1h7.2M290.8 204.5v7.2M260.6 236.3h7.2M264.2 232.7v7.2M178.1 264.9h7.2M181.7 261.3v7.2M217.9 245.1h7.2M221.5 241.5v7.2M170.2 259.6h7.2M173.8 256v7.2M337.7 175.5h7.2M341.3 171.9v7.2M247.7 250.4h7.2M251.3 246.8v7.2M259.4 244.2h7.2M263 240.6v7.2M269.8 214h7.2M273.4 210.4v7.2M272 241.4h7.2M275.6 237.8v7.2M271.2 193.4h7.2M274.8 189.8v7.2M227.6 247.6h7.2M231.2 244v7.2M206.3 305.2h7.2M209.9 301.6v7.2M384 215.6h7.2M387.6 212v7.2M255.4 289.3h7.2M259 285.7v7.2M217.9 222.8h7.2M221.5 219.2v7.2M225.5 261.5h7.2M229.1 257.9v7.2M233.5 248.5h7.2M237.1 244.9v7.2M267.7 237h7.2M271.3 233.4v7.2M288.5 195h7.2M292.1 191.4v7.2M241.1 304.2h7.2M244.7 300.6v7.2M303 254.7h7.2M306.6 251.1v7.2M254 284.9h7.2M257.6 281.3v7.2M313.6 183.7h7.2M317.2 180.1v7.2M194.1 264.9h7.2M197.7 261.3v7.2M257.7 218.4h7.2M261.3 214.8v7.2M294.2 205.8h7.2M297.8 202.2v7.2M217.6 304.8h7.2M221.2 301.2v7.2M253.2 212.5h7.2M256.8 208.9v7.2M270.7 230.2h7.2M274.3 226.6v7.2M224.2 261.4h7.2M227.8 257.8v7.2M251.2 240.4h7.2M254.8 236.8v7.2M311.5 201.7h7.2M315.1 198.1v7.2M281.6 234.4h7.2M285.2 230.8v7.2M249.8 257.1h7.2M253.4 253.5v7.2M269.4 261.6h7.2M273 258v7.2M276.2 209.7h7.2M279.8 206.1v7.2M319.4 186.2h7.2M323 182.6v7.2M280.4 183.1h7.2M284 179.5v7.2M319.3 235.4h7.2M322.9 231.8v7.2M312.7 151.4h7.2M316.3 147.8v7.2M191.1 290.7h7.2M194.7 287.1v7.2M197.3 288.3h7.2M200.9 284.7v7.2M169.2 331.2h7.2M172.8 327.6v7.2M308.9 214.3h7.2M312.5 210.7v7.2M178.6 344h7.2M182.2 340.4v7.2M244 217.2h7.2M247.6 213.6v7.2M296.3 206.8h7.2M299.9 203.2v7.2M185.9 271.4h7.2M189.5 267.8v7.2M217.3 241.8h7.2M220.9 238.2v7.2M254.7 250.2h7.2M258.3 246.6v7.2M295.3 208.3h7.2M298.9 204.7v7.2M196.1 294.8h7.2M199.7 291.2v7.2M258.1 201.5h7.2M261.7 197.9v7.2M288.3 203.1h7.2M291.9 199.5v7.2M262.8 223.3h7.2M266.4 219.7v7.2M255.3 213h7.2M258.9 209.4v7.2M315.9 186.1h7.2M319.5 182.5v7.2M238.5 187.4h7.2M242.1 183.8v7.2M271.5 248.9h7.2M275.1 245.3v7.2M225.3 222.2h7.2M228.9 218.6v7.2M267.1 182.6h7.2M270.7 179v7.2M262.7 262.7h7.2M266.3 259.1v7.2M275.2 192h7.2M278.8 188.4v7.2M259.1 223.1h7.2M262.7 219.5v7.2M296.3 174.1h7.2M299.9 170.5v7.2M241.1 282.6h7.2M244.7 279v7.2M258.4 224.7h7.2M262 221.1v7.2M288.7 236h7.2M292.3 232.4v7.2M282 222.2h7.2M285.6 218.6v7.2M288.2 164.4h7.2M291.8 160.8v7.2M278.2 219.4h7.2M281.8 215.8v7.2M332.3 237.6h7.2M335.9 234v7.2M366.8 183h7.2M370.4 179.4v7.2M313.1 220.3h7.2M316.7 216.7v7.2M196.4 253.5h7.2M200 249.9v7.2M205.3 297.5h7.2M208.9 293.9v7.2M311.5 234.2h7.2M315.1 230.6v7.2M225.3 226.3h7.2M228.9 222.7v7.2M267.9 216.5h7.2M271.5 212.9v7.2M245.8 232.3h7.2M249.4 228.7v7.2M328.7 197h7.2M332.3 193.4v7.2M290.9 161.8h7.2M294.5 158.2v7.2M210.1 276.2h7.2M213.7 272.6v7.2M299.9 256.4h7.2M303.5 252.8v7.2M262 263.2h7.2M265.6 259.6v7.2M212.7 295.7h7.2M216.3 292.1v7.2M289.8 210.5h7.2M293.4 206.9v7.2M240.8 223.8h7.2M244.4 220.2v7.2M289 228.1h7.2M292.6 224.5v7.2M377.7 149.9h7.2M381.3 146.3v7.2M285.1 143.4h7.2M288.7 139.8v7.2M306.5 189.2h7.2M310.1 185.6v7.2M248.2 256.5h7.2M251.8 252.9v7.2M205.4 275.5h7.2M209 271.9v7.2M332.6 207.3h7.2M336.2 203.7v7.2" stroke="#000" stroke-width="1.2" fill="none" opacity="0.88"/>
<path d="M63 222.7L494 223.7" stroke="#000" stroke-width="4"/>
<path d="M279.8 9.5V439" stroke="#000" stroke-width="3.5"/>
<rect x="61" y="7.65" width="435.2" height="433.35" fill="none" stroke="#000" stroke-width="4.3"/>
<path d="M108.8 9.5V24.4M194.4 9.5V22.5M364.2 9.5V22.5M448.4 9.5V22M487.4 9.5V22M108.6 439V428.4M194 439V426.3M364 439V426.3M448.2 439V426.1M487 439V426.1M279.8 9.5V22M279.8 439V427M63 57.4H75.6M63 140.7H75.6M63 312.7H75.6M63 393H75.6M494 55.4H479.7M494 140.7H479.7M494 309H479.7" stroke="#000" stroke-width="4.3"/>
<path d="M494 394H479.7" stroke="#000" stroke-width="2.2"/><path d="M494 396.9H479.7" stroke="#777" stroke-width="1.7"/>
<text x="77.2" y="29.3" font-family="Liberation Sans, sans-serif" font-weight="bold" font-size="19">(a)</text>
<g font-family="Liberation Sans, sans-serif" font-weight="bold" font-size="15.6" text-anchor="end">
<text x="49.2" y="64.5">40</text>
<text x="49.2" y="147.2">20</text>
<text x="49.2" y="227.8">0</text>
<text x="49.2" y="318">- 20</text>
<text x="49.2" y="395.5">- 40</text>
</g>
<g font-family="Liberation Sans, sans-serif" font-weight="bold" font-size="15.6" text-anchor="middle">
<text x="109.3" y="459.3">- 40</text>
<text x="191" y="459.3">- 20</text>
<text x="277.6" y="459.3">0</text>
<text x="361.5" y="459.3">20</text>
<text x="448.4" y="459.3">40</text>
</g>
<text x="138.2" y="480.6" font-family="Liberation Sans, sans-serif" font-weight="bold" font-size="18.15">Measured elliptical velocity (cm/s)</text>
<text transform="translate(19.5 404.2) rotate(-90)" font-family="Liberation Sans, sans-serif" font-weight="bold" font-size="18.2">Elliptical velocity from total vector (cm/s)</text>
<path d="M598.3 197.9 602.8 195.2 610.8 186.8 615.6 200.2 624.2 192.2 628.5 199.6 634.6 192.5 639.5 197.2 644.2 194.1 649.8 208.2 659.2 184 664.7 185.4 669.7 192.7 674.9 204.1 681.2 194.4 688.4 194.3 692.5 191.3 697 199.5 701 197.5 705.5 199.7 711.9 198.4 718.4 198.9 723.3 200.8 729.8 198.9 735.3 203.3 739.9 197.6 743.9 192.7 748 200 752 193.5 756.9 182.7 761 198.4 765.8 199.7 774 194.3 781.2 197.6 786.9 201.6 795.9 192.7 801.5 194.3 808.8 197.6 815 194.3 821.4 195.2 830.3 189.1 836.8 193.2 843.3 193.5 848.1 197.3 852.2 193.5 856.2 198.4 861.1 205.7 865.2 201.6 868.4 203.3 873.3 197.9 877.3 203.8 882.2 191.9 887.5 195.5 892.3 198.8 898.7 203.7 905.1 197.5 908.7 196 914.2 188.7 917.5 190.6 921.2 181.8 926.1 192.4 932.5 194.6 939.8 194.2 947.1 193.3 952.6 191.5 959.9 198.2 966.3 195.1 976.3 203.4 980 197.9 985.1 203.7" stroke="#2a52b8" stroke-width="1.7" fill="none" stroke-linejoin="round"/>
<path d="M598.3 231 602 234 606.4 243.2 610.4 245.3 615.6 226 623.8 232.3 628.7 215.8 632.7 214.8 636.8 218.8 644.9 214.4 658.1 248.4 663.2 243.3 667.2 244.2 675.4 232.7 681.2 240 688 241.1 692.9 231.4 700.6 227.1 705.6 225.5 709.6 214.9 718.2 220.2 724.1 216.2 727.3 217 730.6 227.1 735.5 218.7 740 231.7 743.9 236.5 748 222.7 752 227.6 756.9 217.9 765 236.5 774 228.4 778 241.4 786.9 216.2 791.8 235.7 796.7 234.1 804.8 241.4 808.8 217.4 813.2 229.2 818.9 226 825.4 227.6 830.3 246.3 835.2 232.5 843.3 230.9 847.6 236.2 852.5 222.7 855.4 220.3 860.3 218.7 865.2 221.9 872.5 223.5 878.2 220.3 882.2 244.6 886.3 241.4 890 231.7 896 219.4 904.2 239 912.4 228 921.5 244.5 929.7 226.2 933.4 224.4 938 216.1 946.2 239.9 951.7 224.4 959.9 228.9 963.9 218 968.1 228 972.7 220.7 980 226.2 984.5 219.8" stroke="#2ad02a" stroke-width="1.6" fill="none" stroke-linejoin="round"/>
<path d="M593.8 191.5h7.4M597.5 187.8v7.4M598.3 197.4h7.4M602 193.7v7.4M602.9 199.2h7.4M606.6 195.5v7.4M607.5 198.8h7.4M611.2 195.1v7.4M612 205.1h7.4M615.7 201.4v7.4M615.7 184.2h7.4M619.4 180.5v7.4M620.2 188.7h7.4M623.9 185v7.4M624.8 188.7h7.4M628.5 185v7.4M629.1 190h7.4M632.8 186.3v7.4M633.5 191h7.4M637.2 187.3v7.4M636.8 197.4h7.4M640.5 193.7v7.4M640.4 192.4h7.4M644.1 188.7v7.4M645.9 195.1h7.4M649.6 191.4v7.4M651.8 181.9h7.4M655.5 178.2v7.4M658.7 176.9h7.4M662.4 173.2v7.4M661.9 188.3h7.4M665.6 184.6v7.4M667.8 189.2h7.4M671.5 185.5v7.4M674.2 192.4h7.4M677.9 188.7v7.4M678.7 189.6h7.4M682.4 185.9v7.4M680.9 187.8h7.4M684.6 184.1v7.4M685.4 186.9h7.4M689.1 183.2v7.4M689.1 192.4h7.4M692.8 188.7v7.4M693.6 213.8h7.4M697.3 210.1v7.4M697.7 215.4h7.4M701.4 211.7v7.4M701.8 187.4h7.4M705.5 183.7v7.4M706.4 180.1h7.4M710.1 176.4v7.4M710.5 186h7.4M714.2 182.3v7.4M714.6 192.8h7.4M718.3 189.1v7.4M719.2 193.3h7.4M722.9 189.6v7.4M723.7 192.4h7.4M727.4 188.7v7.4M727.7 193.8h7.4M731.4 190.1v7.4M731.8 195.1h7.4M735.5 191.4v7.4M735.9 187.4h7.4M739.6 183.7v7.4M740 185.5h7.4M743.7 181.8v7.4M745.9 188.7h7.4M749.6 185v7.4M749.6 191h7.4M753.3 187.3v7.4M753.2 191.9h7.4M756.9 188.2v7.4M757.3 187.4h7.4M761 183.7v7.4M761.4 188.3h7.4M765.1 184.6v7.4M765.6 188.7h7.4M769.3 185v7.4M769.7 187.4h7.4M773.4 183.7v7.4M773.1 189.2h7.4M776.8 185.5v7.4M776.3 187.8h7.4M780 184.1v7.4M780 188.7h7.4M783.7 185v7.4M784.1 189.2h7.4M787.8 185.5v7.4M788.3 187h7.4M792 183.3v7.4M792.8 184.6h7.4M796.5 180.9v7.4M796.4 184.2h7.4M800.1 180.5v7.4M801 189.2h7.4M804.7 185.5v7.4M804.6 190.6h7.4M808.3 186.9v7.4M808.3 189.2h7.4M812 185.5v7.4M812.8 187.8h7.4M816.5 184.1v7.4M815.6 178.2h7.4M819.3 174.5v7.4M818.6 179.6h7.4M822.3 175.9v7.4M823.2 182.8h7.4M826.9 179.1v7.4M827.3 185.5h7.4M831 181.8v7.4M832.3 186.9h7.4M836 183.2v7.4M836.4 186.5h7.4M840.1 182.8v7.4M840.1 185h7.4M843.8 181.3v7.4M843.7 191.5h7.4M847.4 187.8v7.4M849.2 185.1h7.4M852.9 181.4v7.4M854.2 187.4h7.4M857.9 183.7v7.4M858.3 187.4h7.4M862 183.7v7.4M859.7 197.4h7.4M863.4 193.7v7.4M861.3 197.4h7.4M865 193.7v7.4M865.4 191h7.4M869.1 187.3v7.4M869.5 193.3h7.4M873.2 189.6v7.4M874.1 181.9h7.4M877.8 178.2v7.4M878.2 181.9h7.4M881.9 178.2v7.4M882.8 181.9h7.4M886.5 178.2v7.4M887.8 182.4h7.4M891.5 178.7v7.4M891.9 191h7.4M895.6 187.3v7.4M896.4 192.4h7.4M900.1 188.7v7.4M901 190.1h7.4M904.7 186.4v7.4M904.7 192.4h7.4M908.4 188.7v7.4M908.6 202.9h7.4M912.3 199.2v7.4M913.2 196.5h7.4M916.9 192.8v7.4M917.3 196.5h7.4M921 192.8v7.4M921.4 190.1h7.4M925.1 186.4v7.4M925 192.4h7.4M928.7 188.7v7.4M929.6 200.1h7.4M933.3 196.4v7.4M933.7 198.3h7.4M937.4 194.6v7.4M939.6 190.1h7.4M943.3 186.4v7.4M944.2 189.7h7.4M947.9 186v7.4M947.8 187.4h7.4M951.5 183.7v7.4M951.3 187.4h7.4M955 183.7v7.4M955.9 189h7.4M959.6 185.3v7.4M960.5 188.3h7.4M964.2 184.6v7.4M964.6 187.4h7.4M968.3 183.7v7.4M968.7 189.2h7.4M972.4 185.5v7.4M972.8 191h7.4M976.5 187.3v7.4M976.9 190.6h7.4M980.6 186.9v7.4M981 189.2h7.4M984.7 185.5v7.4" stroke="#ff2020" stroke-width="1.2" fill="none" opacity="0.8"/>
<path d="M594.7 189.6h7.4M598.4 185.9v7.4M598.3 191.5h7.4M602 187.8v7.4M602.4 189.2h7.4M606.1 185.5v7.4M606.5 191.5h7.4M610.2 187.8v7.4M610.7 193.3h7.4M614.4 189.6v7.4M614.8 188.3h7.4M618.5 184.6v7.4M620.2 181h7.4M623.9 177.3v7.4M624.3 187.8h7.4M628 184.1v7.4M628.4 185.1h7.4M632.1 181.4v7.4M632.6 186.4h7.4M636.3 182.7v7.4M636.7 188.7h7.4M640.4 185v7.4M642.3 186.9h7.4M646 183.2v7.4M645.9 184.6h7.4M649.6 180.9v7.4M649.5 186.9h7.4M653.2 183.2v7.4M653.7 176.9h7.4M657.4 173.2v7.4M657.8 180h7.4M661.5 176.3v7.4M661.9 181.9h7.4M665.6 178.2v7.4M665.5 183.2h7.4M669.2 179.5v7.4M669.6 184.2h7.4M673.3 180.5v7.4M673.7 184.2h7.4M677.4 180.5v7.4M678.3 187.4h7.4M682 183.7v7.4M680.8 185.5h7.4M684.5 181.8v7.4M685 182.8h7.4M688.7 179.1v7.4M689.1 184.5h7.4M692.8 180.8v7.4M693.2 182.8h7.4M696.9 179.1v7.4M697.3 184.6h7.4M701 180.9v7.4M701.8 185.1h7.4M705.5 181.4v7.4M706.4 184.6h7.4M710.1 180.9v7.4M710.5 182.8h7.4M714.2 179.1v7.4M714.6 181.4h7.4M718.3 177.7v7.4M718.3 182.8h7.4M722 179.1v7.4M722.8 184.2h7.4M726.5 180.5v7.4M727.7 181.4h7.4M731.4 177.7v7.4M732.3 184.6h7.4M736 180.9v7.4M736.4 181h7.4M740.1 177.3v7.4M740 178.2h7.4M743.7 174.5v7.4M744.6 184.6h7.4M748.3 180.9v7.4M748.7 186.9h7.4M752.4 183.2v7.4M752.8 185.5h7.4M756.5 181.8v7.4M757.3 183.3h7.4M761 179.6v7.4M761.4 181.9h7.4M765.1 178.2v7.4M766 177.8h7.4M769.7 174.1v7.4M769.7 181h7.4M773.4 177.3v7.4M772.2 182.4h7.4M775.9 178.7v7.4M776.3 180.5h7.4M780 176.8v7.4M780 178.7h7.4M783.7 175v7.4M784.1 175.5h7.4M787.8 171.8v7.4M788.7 183.7h7.4M792.4 180v7.4M792.3 182.8h7.4M796 179.1v7.4M796.4 176.9h7.4M800.1 173.2v7.4M800.5 181.4h7.4M804.2 177.7v7.4M804.2 183.7h7.4M807.9 180v7.4M807.4 180.5h7.4M811.1 176.8v7.4M811 177.8h7.4M814.7 174.1v7.4M814.7 175.5h7.4M818.4 171.8v7.4M818.1 175.5h7.4M821.8 171.8v7.4M822.3 176.4h7.4M826 172.7v7.4M826.3 183.3h7.4M830 179.6v7.4M831.3 179.6h7.4M835 175.9v7.4M835.5 178.2h7.4M839.2 174.5v7.4M839.6 179.6h7.4M843.3 175.9v7.4M843.7 182.8h7.4M847.4 179.1v7.4M847.8 182.8h7.4M851.5 179.1v7.4M851.9 183.7h7.4M855.6 180v7.4M856 181.9h7.4M859.7 178.2v7.4M859.7 180.5h7.4M863.4 176.8v7.4M861.3 181.4h7.4M865 177.7v7.4M865.4 183.7h7.4M869.1 180v7.4M869.5 180.5h7.4M873.2 176.8v7.4M873.6 179.6h7.4M877.3 175.9v7.4M878.2 178.2h7.4M881.9 174.5v7.4M882.8 183h7.4M886.5 179.3v7.4M887.3 187.4h7.4M891 183.7v7.4M891.9 187.8h7.4M895.6 184.1v7.4M896 186.5h7.4M899.7 182.8v7.4M900.1 187.4h7.4M903.8 183.7v7.4M904.2 185.5h7.4M907.9 181.8v7.4M908.6 189.2h7.4M912.3 185.5v7.4M913.2 183.3h7.4M916.9 179.6v7.4M917.7 187.4h7.4M921.4 183.7v7.4M921.8 185.5h7.4M925.5 181.8v7.4M925.5 193.8h7.4M929.2 190.1v7.4M929.6 192.8h7.4M933.3 189.1v7.4M933.7 192.8h7.4M937.4 189.1v7.4M937.8 195.1h7.4M941.5 191.4v7.4M941.4 194.2h7.4M945.1 190.5v7.4M943.3 187.4h7.4M947 183.7v7.4M947.4 188.3h7.4M951.1 184.6v7.4M951.3 188.3h7.4M955 184.6v7.4M955.9 189.2h7.4M959.6 185.5v7.4M960 184.6h7.4M963.7 180.9v7.4M964.1 187.8h7.4M967.8 184.1v7.4M968.7 190.1h7.4M972.4 186.4v7.4M972.8 190.1h7.4M976.5 186.4v7.4M976.9 186.5h7.4M980.6 182.8v7.4M981 181.9h7.4M984.7 178.2v7.4" stroke="#111" stroke-width="1.2" fill="none" opacity="0.85"/>
<path d="M575 221.8H1006.5" stroke="#000" stroke-width="4"/>
<rect x="572.7" y="6.8" width="436" height="432.8" fill="none" stroke="#000" stroke-width="4.3"/>
<path d="M579.7 8.5V21M662.7 8.5V19.5M747 8.5V19.5M835.3 8.5V19.5M918.2 8.5V19.8M1001.5 8.5V19.5M579.7 438V427.6M662.7 438V426.4M747.2 438V426.1M832.8 438V426.1M918.2 438V426M999 438V425.7M575 56.5H587.2M575 139.8H587.2M575 311.9H587.2M575 392.5H587.2M1006.5 54.4H992.4M1006.5 139.6H992.4M1006.5 308.2H992.4M1006.5 393.4H992.4" stroke="#000" stroke-width="4.3"/>
<text x="589" y="29.3" font-family="Liberation Sans, sans-serif" font-weight="bold" font-size="19.5">(b)</text>
<g font-family="Liberation Sans, sans-serif" font-weight="bold" font-size="15.2" text-anchor="end">
<text x="564.4" y="54.9">40</text>
<text x="564.4" y="137.8">20</text>
<text x="564.4" y="224.5">0.0</text>
<text x="564.4" y="309.9">- 20</text>
<text x="564.4" y="392.7">- 40</text>
</g>
<g font-family="Liberation Sans, sans-serif" font-weight="bold" font-size="14.8" text-anchor="middle">
<text x="575.2" y="455.7">0</text>
<text x="665.7" y="455.7">20</text>
<text x="749.2" y="455.7">40</text>
<text x="832.4" y="455.7">60</text>
<text x="918.9" y="455.7">80</text>
<text x="1003.4" y="455.7">100</text>
</g>
<text x="651.4" y="480.2" font-family="Liberation Sans, sans-serif" font-weight="bold" font-size="18.25">Time from 4/1/08 00:00 (hours)</text>
<text transform="translate(533.6 317.6) rotate(-90)" font-family="Liberation Sans, sans-serif" font-weight="bold" font-size="18.1">Elliptical velocity (cm/s)</text>
</svg>
</body></html>
